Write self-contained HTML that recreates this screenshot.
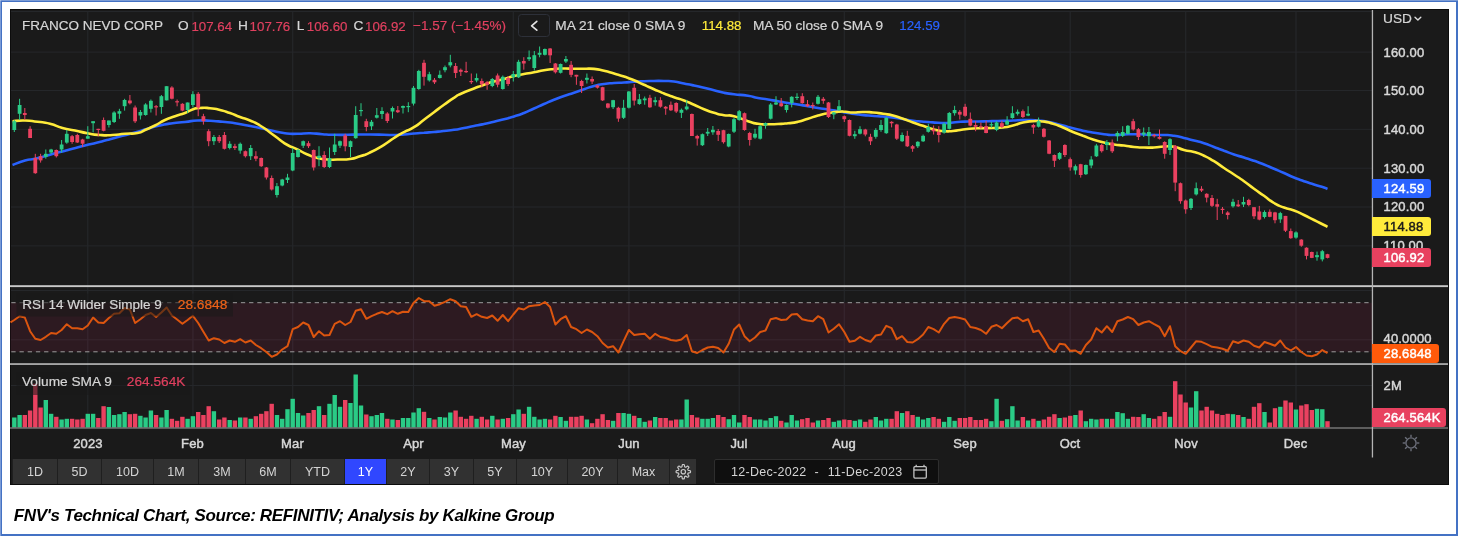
<!DOCTYPE html>
<html><head><meta charset="utf-8"><title>FNV Technical Chart</title>
<style>
html,body{margin:0;padding:0;}
body{width:1458px;height:536px;background:#fff;position:relative;overflow:hidden;font-family:"Liberation Sans",Arial,sans-serif;}
.frame{position:absolute;left:0;top:0;width:1454px;height:532px;border:2px solid #4472c4;}
.frame:before{content:"";position:absolute;left:-2px;top:-2px;width:1458px;height:1px;background:rgba(255,255,255,.3);}
.frame:after{content:"";position:absolute;left:-2px;top:-2px;width:1px;height:536px;background:rgba(255,255,255,.3);}
.chart{position:absolute;left:9.5px;top:9.4px;width:1439px;height:476.1px;background:#1a1a1a;box-shadow:inset 0 0 0 1px #0c0c0c;}
svg{position:absolute;left:0;top:0;}
.t{position:absolute;white-space:nowrap;line-height:1;}
.lg{font-size:13.7px;color:#d6d6d6;top:19.3px;-webkit-text-stroke:0.2px currentColor;}
.red{color:#e0405f;}
.dg{font-size:13.3px;top:19.5px;}
.ax{font-size:13px;color:#d8d8d8;left:1383.6px;font-weight:normal;-webkit-text-stroke:0.45px #d8d8d8;letter-spacing:0.15px;}
.tag{position:absolute;left:1372px;height:19px;border-radius:0 3px 3px 0;color:#fff;font-size:13px;font-weight:normal;-webkit-text-stroke:0.45px currentColor;letter-spacing:0.15px;line-height:19px;box-sizing:border-box;padding-left:11.6px;}
.mon{font-size:13px;color:#d8d8d8;font-weight:normal;-webkit-text-stroke:0.45px #d8d8d8;letter-spacing:0.15px;top:437px;transform:translateX(-50%);}
.btn{position:absolute;top:459px;height:25px;background:#313131;color:#d4d4d4;font-size:12.5px;line-height:26.6px;text-align:center;box-sizing:border-box;border-left:1px solid #1f1f1f;}
.btn.sel{background:#3047ff;color:#fff;}
.cap{left:13.8px;top:506.5px;font-size:17px;letter-spacing:-0.34px;font-weight:bold;font-style:italic;color:#000;}
</style></head><body>
<div class="frame"></div>
<div class="chart"></div>
<svg width="1458" height="536" viewBox="0 0 1458 536">
<line x1="87.8" y1="11" x2="87.8" y2="428" stroke="#25272a" stroke-width="1.2"/>
<line x1="192.9" y1="11" x2="192.9" y2="428" stroke="#25272a" stroke-width="1.2"/>
<line x1="292.7" y1="11" x2="292.7" y2="428" stroke="#25272a" stroke-width="1.2"/>
<line x1="413.5" y1="11" x2="413.5" y2="428" stroke="#25272a" stroke-width="1.2"/>
<line x1="513.3" y1="11" x2="513.3" y2="428" stroke="#25272a" stroke-width="1.2"/>
<line x1="628.9" y1="11" x2="628.9" y2="428" stroke="#25272a" stroke-width="1.2"/>
<line x1="739.2" y1="11" x2="739.2" y2="428" stroke="#25272a" stroke-width="1.2"/>
<line x1="844.3" y1="11" x2="844.3" y2="428" stroke="#25272a" stroke-width="1.2"/>
<line x1="965.1" y1="11" x2="965.1" y2="428" stroke="#25272a" stroke-width="1.2"/>
<line x1="1070.2" y1="11" x2="1070.2" y2="428" stroke="#25272a" stroke-width="1.2"/>
<line x1="1185.7" y1="11" x2="1185.7" y2="428" stroke="#25272a" stroke-width="1.2"/>
<line x1="1296.0" y1="11" x2="1296.0" y2="428" stroke="#25272a" stroke-width="1.2"/>
<line x1="11" y1="52.1" x2="1372" y2="52.1" stroke="#25272a" stroke-width="1"/>
<line x1="11" y1="90.5" x2="1372" y2="90.5" stroke="#25272a" stroke-width="1"/>
<line x1="11" y1="129.3" x2="1372" y2="129.3" stroke="#25272a" stroke-width="1"/>
<line x1="11" y1="168.2" x2="1372" y2="168.2" stroke="#25272a" stroke-width="1"/>
<line x1="11" y1="207.0" x2="1372" y2="207.0" stroke="#25272a" stroke-width="1"/>
<line x1="11" y1="245.9" x2="1372" y2="245.9" stroke="#25272a" stroke-width="1"/>
<line x1="11" y1="11.5" x2="1372" y2="11.5" stroke="#25272a" stroke-width="1"/>
<line x1="11" y1="290.5" x2="1372" y2="290.5" stroke="#25272a" stroke-width="1"/>
<line x1="11" y1="339.8" x2="1372" y2="339.8" stroke="#25272a" stroke-width="1"/>
<rect x="10.5" y="302.7" width="1361.5" height="49.1" fill="rgb(255,37,118)" fill-opacity="0.087"/>
<line x1="11.3" y1="302.7" x2="1372" y2="302.7" stroke="#9c9c9c" stroke-width="1" stroke-dasharray="4.3 3.9"/>
<line x1="11.3" y1="351.8" x2="1372" y2="351.8" stroke="#9c9c9c" stroke-width="1" stroke-dasharray="4.3 3.9"/>
<line x1="11" y1="385.5" x2="1372" y2="385.5" stroke="#25272a" stroke-width="1"/>
<rect x="12.1" y="417.5" width="4.4" height="10.0" fill="#2acb86"/>
<rect x="17.4" y="415.0" width="4.4" height="12.5" fill="#2acb86"/>
<rect x="22.6" y="415.0" width="4.4" height="12.5" fill="#ea4160"/>
<rect x="27.9" y="410.5" width="4.4" height="17.0" fill="#ea4160"/>
<rect x="33.1" y="383.8" width="4.4" height="43.8" fill="#ea4160"/>
<rect x="38.4" y="407.5" width="4.4" height="20.0" fill="#ea4160"/>
<rect x="43.6" y="400.0" width="4.4" height="27.5" fill="#2acb86"/>
<rect x="48.9" y="413.8" width="4.4" height="13.8" fill="#2acb86"/>
<rect x="54.1" y="416.8" width="4.4" height="10.8" fill="#ea4160"/>
<rect x="59.4" y="419.5" width="4.4" height="8.0" fill="#2acb86"/>
<rect x="64.6" y="418.8" width="4.4" height="8.8" fill="#2acb86"/>
<rect x="69.9" y="418.8" width="4.4" height="8.8" fill="#ea4160"/>
<rect x="75.1" y="419.5" width="4.4" height="8.0" fill="#ea4160"/>
<rect x="80.4" y="418.8" width="4.4" height="8.8" fill="#ea4160"/>
<rect x="85.6" y="413.8" width="4.4" height="13.8" fill="#2acb86"/>
<rect x="90.9" y="413.8" width="4.4" height="13.8" fill="#2acb86"/>
<rect x="96.1" y="418.0" width="4.4" height="9.5" fill="#ea4160"/>
<rect x="101.4" y="406.2" width="4.4" height="21.2" fill="#ea4160"/>
<rect x="106.7" y="407.0" width="4.4" height="20.5" fill="#2acb86"/>
<rect x="111.9" y="415.0" width="4.4" height="12.5" fill="#2acb86"/>
<rect x="117.2" y="414.2" width="4.4" height="13.2" fill="#2acb86"/>
<rect x="122.4" y="412.0" width="4.4" height="15.5" fill="#2acb86"/>
<rect x="127.7" y="414.2" width="4.4" height="13.2" fill="#ea4160"/>
<rect x="132.9" y="413.8" width="4.4" height="13.8" fill="#ea4160"/>
<rect x="138.2" y="415.8" width="4.4" height="11.8" fill="#2acb86"/>
<rect x="143.4" y="417.5" width="4.4" height="10.0" fill="#2acb86"/>
<rect x="148.7" y="410.5" width="4.4" height="17.0" fill="#2acb86"/>
<rect x="153.9" y="415.0" width="4.4" height="12.5" fill="#ea4160"/>
<rect x="159.2" y="417.5" width="4.4" height="10.0" fill="#2acb86"/>
<rect x="164.4" y="410.0" width="4.4" height="17.5" fill="#2acb86"/>
<rect x="169.7" y="418.8" width="4.4" height="8.8" fill="#ea4160"/>
<rect x="174.9" y="420.8" width="4.4" height="6.8" fill="#ea4160"/>
<rect x="180.2" y="416.8" width="4.4" height="10.8" fill="#ea4160"/>
<rect x="185.4" y="418.8" width="4.4" height="8.8" fill="#2acb86"/>
<rect x="190.7" y="416.2" width="4.4" height="11.2" fill="#2acb86"/>
<rect x="196.0" y="412.0" width="4.4" height="15.5" fill="#ea4160"/>
<rect x="201.2" y="415.0" width="4.4" height="12.5" fill="#ea4160"/>
<rect x="206.5" y="406.2" width="4.4" height="21.2" fill="#ea4160"/>
<rect x="211.7" y="411.2" width="4.4" height="16.2" fill="#2acb86"/>
<rect x="217.0" y="419.5" width="4.4" height="8.0" fill="#ea4160"/>
<rect x="222.2" y="417.5" width="4.4" height="10.0" fill="#ea4160"/>
<rect x="227.5" y="420.0" width="4.4" height="7.5" fill="#2acb86"/>
<rect x="232.7" y="420.5" width="4.4" height="7.0" fill="#ea4160"/>
<rect x="238.0" y="417.5" width="4.4" height="10.0" fill="#2acb86"/>
<rect x="243.2" y="417.5" width="4.4" height="10.0" fill="#ea4160"/>
<rect x="248.5" y="418.8" width="4.4" height="8.8" fill="#2acb86"/>
<rect x="253.7" y="416.2" width="4.4" height="11.2" fill="#ea4160"/>
<rect x="259.0" y="413.8" width="4.4" height="13.8" fill="#ea4160"/>
<rect x="264.2" y="411.2" width="4.4" height="16.2" fill="#ea4160"/>
<rect x="269.5" y="403.8" width="4.4" height="23.8" fill="#ea4160"/>
<rect x="274.8" y="415.0" width="4.4" height="12.5" fill="#2acb86"/>
<rect x="280.0" y="418.8" width="4.4" height="8.8" fill="#2acb86"/>
<rect x="285.3" y="409.2" width="4.4" height="18.2" fill="#2acb86"/>
<rect x="290.5" y="398.8" width="4.4" height="28.8" fill="#2acb86"/>
<rect x="295.8" y="413.0" width="4.4" height="14.5" fill="#2acb86"/>
<rect x="301.0" y="415.5" width="4.4" height="12.0" fill="#2acb86"/>
<rect x="306.3" y="413.0" width="4.4" height="14.5" fill="#ea4160"/>
<rect x="311.5" y="410.0" width="4.4" height="17.5" fill="#ea4160"/>
<rect x="316.8" y="406.2" width="4.4" height="21.2" fill="#2acb86"/>
<rect x="322.0" y="415.0" width="4.4" height="12.5" fill="#ea4160"/>
<rect x="327.3" y="403.8" width="4.4" height="23.8" fill="#2acb86"/>
<rect x="332.5" y="395.0" width="4.4" height="32.5" fill="#2acb86"/>
<rect x="337.8" y="406.8" width="4.4" height="20.8" fill="#2acb86"/>
<rect x="343.0" y="400.0" width="4.4" height="27.5" fill="#ea4160"/>
<rect x="348.3" y="403.0" width="4.4" height="24.5" fill="#2acb86"/>
<rect x="353.5" y="374.5" width="4.4" height="53.0" fill="#2acb86"/>
<rect x="358.8" y="405.5" width="4.4" height="22.0" fill="#2acb86"/>
<rect x="364.1" y="414.5" width="4.4" height="13.0" fill="#ea4160"/>
<rect x="369.3" y="416.2" width="4.4" height="11.2" fill="#2acb86"/>
<rect x="374.6" y="415.0" width="4.4" height="12.5" fill="#2acb86"/>
<rect x="379.8" y="413.0" width="4.4" height="14.5" fill="#2acb86"/>
<rect x="385.1" y="418.8" width="4.4" height="8.8" fill="#ea4160"/>
<rect x="390.3" y="419.5" width="4.4" height="8.0" fill="#2acb86"/>
<rect x="395.6" y="420.0" width="4.4" height="7.5" fill="#ea4160"/>
<rect x="400.8" y="418.0" width="4.4" height="9.5" fill="#2acb86"/>
<rect x="406.1" y="418.0" width="4.4" height="9.5" fill="#2acb86"/>
<rect x="411.3" y="412.5" width="4.4" height="15.0" fill="#2acb86"/>
<rect x="416.6" y="408.2" width="4.4" height="19.2" fill="#2acb86"/>
<rect x="421.8" y="411.8" width="4.4" height="15.8" fill="#ea4160"/>
<rect x="427.1" y="418.0" width="4.4" height="9.5" fill="#2acb86"/>
<rect x="432.3" y="419.5" width="4.4" height="8.0" fill="#ea4160"/>
<rect x="437.6" y="417.0" width="4.4" height="10.5" fill="#2acb86"/>
<rect x="442.8" y="417.5" width="4.4" height="10.0" fill="#2acb86"/>
<rect x="448.1" y="412.5" width="4.4" height="15.0" fill="#2acb86"/>
<rect x="453.4" y="410.5" width="4.4" height="17.0" fill="#ea4160"/>
<rect x="458.6" y="416.8" width="4.4" height="10.8" fill="#ea4160"/>
<rect x="463.9" y="418.8" width="4.4" height="8.8" fill="#ea4160"/>
<rect x="469.1" y="415.8" width="4.4" height="11.8" fill="#ea4160"/>
<rect x="474.4" y="418.8" width="4.4" height="8.8" fill="#2acb86"/>
<rect x="479.6" y="416.8" width="4.4" height="10.8" fill="#ea4160"/>
<rect x="484.9" y="419.5" width="4.4" height="8.0" fill="#ea4160"/>
<rect x="490.1" y="415.8" width="4.4" height="11.8" fill="#2acb86"/>
<rect x="495.4" y="419.5" width="4.4" height="8.0" fill="#ea4160"/>
<rect x="500.6" y="418.8" width="4.4" height="8.8" fill="#2acb86"/>
<rect x="505.9" y="418.0" width="4.4" height="9.5" fill="#ea4160"/>
<rect x="511.1" y="414.2" width="4.4" height="13.2" fill="#2acb86"/>
<rect x="516.4" y="409.5" width="4.4" height="18.0" fill="#2acb86"/>
<rect x="521.6" y="413.8" width="4.4" height="13.8" fill="#ea4160"/>
<rect x="526.9" y="406.8" width="4.4" height="20.8" fill="#2acb86"/>
<rect x="532.1" y="416.8" width="4.4" height="10.8" fill="#2acb86"/>
<rect x="537.4" y="419.5" width="4.4" height="8.0" fill="#2acb86"/>
<rect x="542.7" y="418.8" width="4.4" height="8.8" fill="#2acb86"/>
<rect x="547.9" y="419.5" width="4.4" height="8.0" fill="#ea4160"/>
<rect x="553.2" y="415.8" width="4.4" height="11.8" fill="#ea4160"/>
<rect x="558.4" y="417.0" width="4.4" height="10.5" fill="#2acb86"/>
<rect x="563.7" y="420.8" width="4.4" height="6.8" fill="#2acb86"/>
<rect x="568.9" y="416.8" width="4.4" height="10.8" fill="#ea4160"/>
<rect x="574.2" y="416.8" width="4.4" height="10.8" fill="#ea4160"/>
<rect x="579.4" y="415.8" width="4.4" height="11.8" fill="#ea4160"/>
<rect x="584.7" y="419.5" width="4.4" height="8.0" fill="#2acb86"/>
<rect x="589.9" y="423.2" width="4.4" height="4.2" fill="#ea4160"/>
<rect x="595.2" y="418.8" width="4.4" height="8.8" fill="#ea4160"/>
<rect x="600.4" y="414.2" width="4.4" height="13.2" fill="#ea4160"/>
<rect x="605.7" y="420.0" width="4.4" height="7.5" fill="#ea4160"/>
<rect x="610.9" y="420.8" width="4.4" height="6.8" fill="#2acb86"/>
<rect x="616.2" y="413.0" width="4.4" height="14.5" fill="#ea4160"/>
<rect x="621.4" y="413.0" width="4.4" height="14.5" fill="#2acb86"/>
<rect x="626.7" y="413.8" width="4.4" height="13.8" fill="#2acb86"/>
<rect x="632.0" y="415.8" width="4.4" height="11.8" fill="#ea4160"/>
<rect x="637.2" y="418.0" width="4.4" height="9.5" fill="#2acb86"/>
<rect x="642.5" y="421.8" width="4.4" height="5.8" fill="#2acb86"/>
<rect x="647.7" y="420.5" width="4.4" height="7.0" fill="#ea4160"/>
<rect x="653.0" y="417.0" width="4.4" height="10.5" fill="#2acb86"/>
<rect x="658.2" y="418.0" width="4.4" height="9.5" fill="#ea4160"/>
<rect x="663.5" y="418.0" width="4.4" height="9.5" fill="#ea4160"/>
<rect x="668.7" y="420.5" width="4.4" height="7.0" fill="#ea4160"/>
<rect x="674.0" y="419.5" width="4.4" height="8.0" fill="#ea4160"/>
<rect x="679.2" y="419.5" width="4.4" height="8.0" fill="#2acb86"/>
<rect x="684.5" y="399.5" width="4.4" height="28.0" fill="#2acb86"/>
<rect x="689.7" y="415.0" width="4.4" height="12.5" fill="#ea4160"/>
<rect x="695.0" y="417.5" width="4.4" height="10.0" fill="#ea4160"/>
<rect x="700.2" y="418.8" width="4.4" height="8.8" fill="#2acb86"/>
<rect x="705.5" y="418.8" width="4.4" height="8.8" fill="#2acb86"/>
<rect x="710.7" y="418.0" width="4.4" height="9.5" fill="#2acb86"/>
<rect x="716.0" y="415.0" width="4.4" height="12.5" fill="#ea4160"/>
<rect x="721.3" y="417.0" width="4.4" height="10.5" fill="#ea4160"/>
<rect x="726.5" y="419.2" width="4.4" height="8.2" fill="#2acb86"/>
<rect x="731.8" y="415.0" width="4.4" height="12.5" fill="#2acb86"/>
<rect x="737.0" y="422.5" width="4.4" height="5.0" fill="#2acb86"/>
<rect x="742.3" y="415.0" width="4.4" height="12.5" fill="#ea4160"/>
<rect x="747.5" y="417.0" width="4.4" height="10.5" fill="#ea4160"/>
<rect x="752.8" y="419.5" width="4.4" height="8.0" fill="#2acb86"/>
<rect x="758.0" y="419.5" width="4.4" height="8.0" fill="#2acb86"/>
<rect x="763.3" y="420.5" width="4.4" height="7.0" fill="#2acb86"/>
<rect x="768.5" y="418.0" width="4.4" height="9.5" fill="#2acb86"/>
<rect x="773.8" y="416.2" width="4.4" height="11.2" fill="#2acb86"/>
<rect x="779.0" y="420.8" width="4.4" height="6.8" fill="#ea4160"/>
<rect x="784.3" y="422.5" width="4.4" height="5.0" fill="#2acb86"/>
<rect x="789.5" y="415.0" width="4.4" height="12.5" fill="#2acb86"/>
<rect x="794.8" y="420.5" width="4.4" height="7.0" fill="#2acb86"/>
<rect x="800.0" y="419.2" width="4.4" height="8.2" fill="#ea4160"/>
<rect x="805.3" y="418.0" width="4.4" height="9.5" fill="#ea4160"/>
<rect x="810.6" y="422.5" width="4.4" height="5.0" fill="#ea4160"/>
<rect x="815.8" y="420.5" width="4.4" height="7.0" fill="#2acb86"/>
<rect x="821.1" y="420.0" width="4.4" height="7.5" fill="#ea4160"/>
<rect x="826.3" y="418.0" width="4.4" height="9.5" fill="#ea4160"/>
<rect x="831.6" y="421.8" width="4.4" height="5.8" fill="#2acb86"/>
<rect x="836.8" y="420.5" width="4.4" height="7.0" fill="#2acb86"/>
<rect x="842.1" y="419.5" width="4.4" height="8.0" fill="#ea4160"/>
<rect x="847.3" y="420.0" width="4.4" height="7.5" fill="#ea4160"/>
<rect x="852.6" y="420.8" width="4.4" height="6.8" fill="#2acb86"/>
<rect x="857.8" y="419.5" width="4.4" height="8.0" fill="#2acb86"/>
<rect x="863.1" y="421.8" width="4.4" height="5.8" fill="#ea4160"/>
<rect x="868.3" y="419.5" width="4.4" height="8.0" fill="#ea4160"/>
<rect x="873.6" y="417.0" width="4.4" height="10.5" fill="#2acb86"/>
<rect x="878.8" y="420.5" width="4.4" height="7.0" fill="#2acb86"/>
<rect x="884.1" y="418.8" width="4.4" height="8.8" fill="#2acb86"/>
<rect x="889.4" y="418.8" width="4.4" height="8.8" fill="#ea4160"/>
<rect x="894.6" y="411.2" width="4.4" height="16.2" fill="#ea4160"/>
<rect x="899.9" y="413.0" width="4.4" height="14.5" fill="#2acb86"/>
<rect x="905.1" y="411.2" width="4.4" height="16.2" fill="#ea4160"/>
<rect x="910.4" y="415.0" width="4.4" height="12.5" fill="#ea4160"/>
<rect x="915.6" y="416.8" width="4.4" height="10.8" fill="#2acb86"/>
<rect x="920.9" y="419.5" width="4.4" height="8.0" fill="#2acb86"/>
<rect x="926.1" y="418.0" width="4.4" height="9.5" fill="#2acb86"/>
<rect x="931.4" y="417.0" width="4.4" height="10.5" fill="#ea4160"/>
<rect x="936.6" y="418.8" width="4.4" height="8.8" fill="#ea4160"/>
<rect x="941.9" y="421.8" width="4.4" height="5.8" fill="#2acb86"/>
<rect x="947.1" y="417.0" width="4.4" height="10.5" fill="#2acb86"/>
<rect x="952.4" y="420.8" width="4.4" height="6.8" fill="#2acb86"/>
<rect x="957.6" y="418.0" width="4.4" height="9.5" fill="#ea4160"/>
<rect x="962.9" y="418.0" width="4.4" height="9.5" fill="#ea4160"/>
<rect x="968.1" y="417.0" width="4.4" height="10.5" fill="#ea4160"/>
<rect x="973.4" y="420.0" width="4.4" height="7.5" fill="#ea4160"/>
<rect x="978.7" y="420.0" width="4.4" height="7.5" fill="#ea4160"/>
<rect x="983.9" y="418.8" width="4.4" height="8.8" fill="#ea4160"/>
<rect x="989.2" y="421.2" width="4.4" height="6.2" fill="#2acb86"/>
<rect x="994.4" y="398.8" width="4.4" height="28.8" fill="#2acb86"/>
<rect x="999.7" y="420.8" width="4.4" height="6.8" fill="#ea4160"/>
<rect x="1004.9" y="419.2" width="4.4" height="8.2" fill="#2acb86"/>
<rect x="1010.2" y="406.2" width="4.4" height="21.2" fill="#2acb86"/>
<rect x="1015.4" y="420.5" width="4.4" height="7.0" fill="#2acb86"/>
<rect x="1020.7" y="417.0" width="4.4" height="10.5" fill="#ea4160"/>
<rect x="1025.9" y="420.5" width="4.4" height="7.0" fill="#2acb86"/>
<rect x="1031.2" y="418.8" width="4.4" height="8.8" fill="#ea4160"/>
<rect x="1036.4" y="420.8" width="4.4" height="6.8" fill="#2acb86"/>
<rect x="1041.7" y="419.5" width="4.4" height="8.0" fill="#ea4160"/>
<rect x="1046.9" y="416.8" width="4.4" height="10.8" fill="#ea4160"/>
<rect x="1052.2" y="414.2" width="4.4" height="13.2" fill="#ea4160"/>
<rect x="1057.4" y="418.0" width="4.4" height="9.5" fill="#2acb86"/>
<rect x="1062.7" y="417.5" width="4.4" height="10.0" fill="#ea4160"/>
<rect x="1068.0" y="415.8" width="4.4" height="11.8" fill="#ea4160"/>
<rect x="1073.2" y="415.0" width="4.4" height="12.5" fill="#2acb86"/>
<rect x="1078.5" y="410.5" width="4.4" height="17.0" fill="#ea4160"/>
<rect x="1083.7" y="421.2" width="4.4" height="6.2" fill="#2acb86"/>
<rect x="1089.0" y="418.8" width="4.4" height="8.8" fill="#2acb86"/>
<rect x="1094.2" y="419.5" width="4.4" height="8.0" fill="#2acb86"/>
<rect x="1099.5" y="418.8" width="4.4" height="8.8" fill="#ea4160"/>
<rect x="1104.7" y="418.8" width="4.4" height="8.8" fill="#2acb86"/>
<rect x="1110.0" y="418.8" width="4.4" height="8.8" fill="#ea4160"/>
<rect x="1115.2" y="412.0" width="4.4" height="15.5" fill="#2acb86"/>
<rect x="1120.5" y="413.2" width="4.4" height="14.2" fill="#2acb86"/>
<rect x="1125.7" y="418.8" width="4.4" height="8.8" fill="#2acb86"/>
<rect x="1131.0" y="416.8" width="4.4" height="10.8" fill="#ea4160"/>
<rect x="1136.2" y="417.0" width="4.4" height="10.5" fill="#ea4160"/>
<rect x="1141.5" y="414.2" width="4.4" height="13.2" fill="#2acb86"/>
<rect x="1146.7" y="418.0" width="4.4" height="9.5" fill="#2acb86"/>
<rect x="1152.0" y="418.8" width="4.4" height="8.8" fill="#ea4160"/>
<rect x="1157.3" y="416.2" width="4.4" height="11.2" fill="#ea4160"/>
<rect x="1162.5" y="412.0" width="4.4" height="15.5" fill="#ea4160"/>
<rect x="1167.8" y="416.8" width="4.4" height="10.8" fill="#2acb86"/>
<rect x="1173.0" y="381.2" width="4.4" height="46.2" fill="#ea4160"/>
<rect x="1178.3" y="394.5" width="4.4" height="33.0" fill="#ea4160"/>
<rect x="1183.5" y="402.5" width="4.4" height="25.0" fill="#ea4160"/>
<rect x="1188.8" y="407.5" width="4.4" height="20.0" fill="#2acb86"/>
<rect x="1194.0" y="391.2" width="4.4" height="36.2" fill="#2acb86"/>
<rect x="1199.3" y="410.5" width="4.4" height="17.0" fill="#ea4160"/>
<rect x="1204.5" y="406.8" width="4.4" height="20.8" fill="#ea4160"/>
<rect x="1209.8" y="410.5" width="4.4" height="17.0" fill="#ea4160"/>
<rect x="1215.0" y="413.8" width="4.4" height="13.8" fill="#ea4160"/>
<rect x="1220.3" y="415.0" width="4.4" height="12.5" fill="#ea4160"/>
<rect x="1225.5" y="413.8" width="4.4" height="13.8" fill="#ea4160"/>
<rect x="1230.8" y="414.2" width="4.4" height="13.2" fill="#2acb86"/>
<rect x="1236.0" y="415.0" width="4.4" height="12.5" fill="#ea4160"/>
<rect x="1241.3" y="417.0" width="4.4" height="10.5" fill="#2acb86"/>
<rect x="1246.6" y="418.8" width="4.4" height="8.8" fill="#ea4160"/>
<rect x="1251.8" y="406.8" width="4.4" height="20.8" fill="#ea4160"/>
<rect x="1257.1" y="403.2" width="4.4" height="24.2" fill="#ea4160"/>
<rect x="1262.3" y="412.0" width="4.4" height="15.5" fill="#2acb86"/>
<rect x="1267.6" y="422.5" width="4.4" height="5.0" fill="#ea4160"/>
<rect x="1272.8" y="408.2" width="4.4" height="19.2" fill="#ea4160"/>
<rect x="1278.1" y="406.8" width="4.4" height="20.8" fill="#2acb86"/>
<rect x="1283.3" y="400.5" width="4.4" height="27.0" fill="#ea4160"/>
<rect x="1288.6" y="402.5" width="4.4" height="25.0" fill="#ea4160"/>
<rect x="1293.8" y="409.5" width="4.4" height="18.0" fill="#2acb86"/>
<rect x="1299.1" y="405.5" width="4.4" height="22.0" fill="#ea4160"/>
<rect x="1304.3" y="404.2" width="4.4" height="23.2" fill="#ea4160"/>
<rect x="1309.6" y="410.0" width="4.4" height="17.5" fill="#ea4160"/>
<rect x="1314.8" y="408.8" width="4.4" height="18.8" fill="#2acb86"/>
<rect x="1320.1" y="409.2" width="4.4" height="18.2" fill="#2acb86"/>
<rect x="1325.3" y="421.2" width="4.4" height="6.2" fill="#ea4160"/>
<path d="M12.5 165.0 C16.7 163.5 17.5 162.6 25.0 160.5 C32.5 158.4 27.5 160.4 35.0 158.8 C42.5 157.1 39.2 157.8 47.5 155.5 C55.8 153.2 51.7 154.2 60.0 152.0 C68.3 149.8 64.2 150.9 72.5 148.8 C80.8 146.6 76.7 147.6 85.0 145.5 C93.3 143.4 89.2 144.6 97.5 142.5 C105.8 140.4 101.7 141.5 110.0 139.2 C118.3 137.0 114.2 138.0 122.5 135.8 C130.8 133.5 126.7 134.8 135.0 132.5 C143.3 130.2 139.2 131.1 147.5 128.8 C155.8 126.4 151.7 127.3 160.0 125.5 C168.3 123.7 164.2 124.4 172.5 123.2 C180.8 122.1 176.7 122.9 185.0 122.0 C193.3 121.1 189.2 120.9 197.5 120.5 C205.8 120.1 201.7 120.3 210.0 120.8 C218.3 121.2 214.2 120.9 222.5 121.8 C230.8 122.6 226.7 122.0 235.0 123.2 C243.3 124.5 239.2 123.9 247.5 125.5 C255.8 127.1 251.7 126.2 260.0 128.0 C268.3 129.8 264.2 129.0 272.5 130.8 C280.8 132.5 276.7 132.2 285.0 133.2 C293.3 134.2 289.2 133.8 297.5 133.8 C305.8 133.8 301.7 133.1 310.0 133.2 C318.3 133.4 314.2 133.8 322.5 134.2 C330.8 134.8 326.7 134.6 335.0 134.8 C343.3 134.9 339.2 134.8 347.5 134.8 C355.8 134.7 352.5 134.6 360.0 134.5 C367.5 134.4 362.0 134.4 370.0 134.5 C378.0 134.6 376.0 134.6 384.0 134.8 C392.0 134.9 387.3 135.1 394.0 135.0 C400.7 134.9 397.3 135.0 404.0 134.5 C410.7 134.0 407.3 134.1 414.0 133.5 C420.7 132.9 417.3 133.2 424.0 132.8 C430.7 132.2 427.3 132.6 434.0 132.0 C440.7 131.4 437.3 131.8 444.0 131.0 C450.7 130.2 447.3 130.8 454.0 129.8 C460.7 128.8 457.3 129.2 464.0 128.0 C470.7 126.8 467.3 127.3 474.0 126.0 C480.7 124.7 477.3 125.4 484.0 124.0 C490.7 122.6 487.3 123.3 494.0 121.8 C500.7 120.2 497.3 121.0 504.0 119.2 C510.7 117.5 507.3 118.6 514.0 116.5 C520.7 114.4 517.3 115.7 524.0 113.0 C530.7 110.3 527.3 111.5 534.0 108.5 C540.7 105.5 537.3 106.9 544.0 104.0 C550.7 101.1 547.3 102.4 554.0 99.8 C560.7 97.1 557.3 98.3 564.0 96.0 C570.7 93.7 567.3 95.0 574.0 92.8 C580.7 90.5 577.3 91.5 584.0 89.2 C590.7 87.0 587.3 87.8 594.0 86.0 C600.7 84.2 597.3 85.0 604.0 84.0 C610.7 83.0 607.3 83.5 614.0 83.0 C620.7 82.5 617.3 82.9 624.0 82.5 C630.7 82.1 627.3 82.2 634.0 81.8 C640.7 81.3 637.3 81.5 644.0 81.2 C650.7 81.0 647.3 81.1 654.0 81.0 C660.7 80.9 657.3 80.8 664.0 81.0 C670.7 81.2 667.3 80.7 674.0 81.5 C680.7 82.3 677.3 82.2 684.0 83.5 C690.7 84.8 687.3 84.1 694.0 85.5 C700.7 86.9 697.3 86.2 704.0 87.8 C710.7 89.3 707.3 88.6 714.0 90.2 C720.7 91.9 717.3 91.4 724.0 92.8 C730.7 94.1 726.0 93.2 734.0 94.2 C742.0 95.2 740.0 94.5 748.0 95.8 C756.0 97.0 751.3 96.8 758.0 98.0 C764.7 99.2 761.3 98.4 768.0 99.5 C774.7 100.6 771.3 100.1 778.0 101.2 C784.7 102.4 781.3 101.9 788.0 103.0 C794.7 104.1 791.3 103.4 798.0 104.5 C804.7 105.6 801.3 105.1 808.0 106.2 C814.7 107.4 811.3 106.9 818.0 108.0 C824.7 109.1 821.3 108.4 828.0 109.5 C834.7 110.6 831.3 110.1 838.0 111.2 C844.7 112.4 841.3 111.9 848.0 113.0 C854.7 114.1 851.3 113.7 858.0 114.5 C864.7 115.3 861.3 114.9 868.0 115.5 C874.7 116.1 871.3 115.8 878.0 116.2 C884.7 116.8 881.3 116.3 888.0 117.0 C894.7 117.7 891.3 117.2 898.0 118.2 C904.7 119.2 901.3 119.0 908.0 120.0 C914.7 121.0 911.3 120.6 918.0 121.2 C924.7 121.9 921.3 121.5 928.0 122.0 C934.7 122.5 931.3 122.4 938.0 122.8 C944.7 123.1 941.3 123.2 948.0 123.0 C954.7 122.8 951.3 122.5 958.0 122.0 C964.7 121.5 961.3 121.7 968.0 121.5 C974.7 121.3 971.3 121.6 978.0 121.5 C984.7 121.4 981.3 121.4 988.0 121.2 C994.7 121.1 991.3 121.2 998.0 121.0 C1004.7 120.8 1001.3 121.0 1008.0 120.8 C1014.7 120.5 1011.3 120.5 1018.0 120.2 C1024.7 120.0 1021.3 119.9 1028.0 120.0 C1034.7 120.1 1031.3 119.9 1038.0 120.5 C1044.7 121.1 1041.3 120.5 1048.0 121.8 C1054.7 123.0 1051.3 122.5 1058.0 124.2 C1064.7 126.0 1061.3 125.2 1068.0 127.0 C1074.7 128.8 1071.3 127.9 1078.0 129.5 C1084.7 131.1 1079.3 130.2 1088.0 131.8 C1096.7 133.3 1095.3 133.2 1104.0 134.2 C1112.7 135.3 1107.3 134.9 1114.0 135.0 C1120.7 135.1 1117.3 134.8 1124.0 134.5 C1130.7 134.2 1127.3 134.2 1134.0 134.2 C1140.7 134.2 1137.3 134.2 1144.0 134.5 C1150.7 134.8 1147.3 134.8 1154.0 135.0 C1160.7 135.2 1157.3 134.8 1164.0 135.0 C1170.7 135.2 1167.3 134.8 1174.0 135.8 C1180.7 136.8 1177.3 136.4 1184.0 138.0 C1190.7 139.6 1187.3 138.8 1194.0 140.5 C1200.7 142.2 1197.3 141.1 1204.0 143.2 C1210.7 145.4 1207.3 144.5 1214.0 147.0 C1220.7 149.5 1217.3 148.2 1224.0 150.8 C1230.7 153.2 1227.3 152.2 1234.0 154.5 C1240.7 156.8 1237.3 155.4 1244.0 157.5 C1250.7 159.6 1247.3 158.4 1254.0 160.8 C1260.7 163.1 1257.3 161.8 1264.0 164.5 C1270.7 167.2 1267.3 165.9 1274.0 168.8 C1280.7 171.6 1277.3 170.1 1284.0 173.0 C1290.7 175.9 1287.3 174.8 1294.0 177.5 C1300.7 180.2 1297.3 178.9 1304.0 181.2 C1310.7 183.6 1307.3 182.4 1314.0 184.5 C1320.7 186.6 1319.5 186.0 1324.0 187.5 C1328.5 189.0 1326.3 188.5 1327.5 189.0" fill="none" stroke="#2962ff" stroke-width="2.6" stroke-linejoin="round"/>
<path d="M12.5 121.2 C16.7 121.0 16.7 120.3 25.0 120.5 C33.3 120.7 29.2 120.7 37.5 121.8 C45.8 122.8 41.7 121.7 50.0 123.8 C58.3 125.8 54.2 125.8 62.5 128.0 C70.8 130.2 66.7 128.8 75.0 130.5 C83.3 132.2 79.2 131.8 87.5 133.2 C95.8 134.8 91.7 134.4 100.0 135.0 C108.3 135.6 104.2 135.4 112.5 135.0 C120.8 134.6 116.7 134.4 125.0 133.8 C133.3 133.1 130.8 134.2 137.5 133.0 C144.2 131.8 139.2 132.5 145.0 130.0 C150.8 127.5 148.3 128.8 155.0 125.5 C161.7 122.2 158.3 123.1 165.0 120.0 C171.7 116.9 168.3 118.6 175.0 116.2 C181.7 113.9 179.2 115.2 185.0 113.0 C190.8 110.8 187.5 111.2 192.5 109.5 C197.5 107.8 194.2 108.4 200.0 108.0 C205.8 107.6 203.3 107.6 210.0 108.2 C216.7 108.9 213.3 108.4 220.0 110.0 C226.7 111.6 223.3 110.7 230.0 113.0 C236.7 115.3 233.3 114.5 240.0 117.0 C246.7 119.5 243.3 117.7 250.0 120.5 C256.7 123.3 253.3 121.5 260.0 125.5 C266.7 129.5 263.3 127.7 270.0 132.5 C276.7 137.3 274.2 135.8 280.0 140.0 C285.8 144.2 281.7 141.8 287.5 145.0 C293.3 148.2 290.8 146.3 297.5 149.5 C304.2 152.7 300.8 151.7 307.5 154.5 C314.2 157.3 310.8 156.3 317.5 158.0 C324.2 159.7 320.8 159.0 327.5 159.5 C334.2 160.0 330.0 159.7 337.5 159.5 C345.0 159.3 342.5 160.1 350.0 159.0 C357.5 157.9 353.3 158.4 360.0 156.2 C366.7 154.1 362.0 156.3 370.0 152.5 C378.0 148.7 376.0 149.6 384.0 144.8 C392.0 139.9 387.3 142.2 394.0 138.0 C400.7 133.8 397.3 135.8 404.0 132.2 C410.7 128.7 407.3 131.4 414.0 127.2 C420.7 123.1 417.3 124.8 424.0 119.8 C430.7 114.8 427.3 117.2 434.0 112.2 C440.7 107.2 437.3 109.6 444.0 104.8 C450.7 99.9 448.2 101.5 454.0 97.8 C459.8 94.0 454.8 96.6 461.5 93.5 C468.2 90.4 466.5 91.4 474.0 88.5 C481.5 85.6 477.3 87.1 484.0 84.8 C490.7 82.4 487.3 83.4 494.0 81.5 C500.7 79.6 497.3 80.8 504.0 79.0 C510.7 77.2 507.3 77.7 514.0 76.0 C520.7 74.3 517.3 75.2 524.0 74.0 C530.7 72.8 527.3 73.5 534.0 72.2 C540.7 71.0 537.3 71.3 544.0 70.2 C550.7 69.2 547.3 69.6 554.0 69.0 C560.7 68.4 557.3 68.6 564.0 68.5 C570.7 68.4 567.3 68.7 574.0 68.8 C580.7 68.8 577.3 68.7 584.0 68.8 C590.7 68.8 587.3 68.2 594.0 68.9 C600.7 69.5 597.3 69.2 604.0 70.8 C610.7 72.3 607.3 71.6 614.0 73.5 C620.7 75.4 617.3 74.2 624.0 76.5 C630.7 78.8 627.3 77.5 634.0 80.2 C640.7 83.0 637.3 81.8 644.0 84.8 C650.7 87.8 647.3 86.3 654.0 89.2 C660.7 92.2 657.3 90.8 664.0 93.5 C670.7 96.2 667.3 94.9 674.0 97.2 C680.7 99.6 677.3 98.0 684.0 100.5 C690.7 103.0 687.3 101.8 694.0 104.8 C700.7 107.7 697.3 106.6 704.0 109.2 C710.7 111.9 707.3 110.8 714.0 112.8 C720.7 114.8 717.3 114.1 724.0 115.2 C730.7 116.4 726.0 114.2 734.0 116.2 C742.0 118.2 740.0 118.8 748.0 121.2 C756.0 123.8 751.3 122.8 758.0 123.8 C764.7 124.8 761.3 124.2 768.0 124.2 C774.7 124.3 771.3 124.3 778.0 124.0 C784.7 123.7 781.3 124.0 788.0 123.2 C794.7 122.5 791.3 123.2 798.0 121.8 C804.7 120.2 801.3 120.8 808.0 118.8 C814.7 116.7 811.3 117.3 818.0 115.5 C824.7 113.7 821.3 114.5 828.0 113.2 C834.7 112.0 832.2 112.2 838.0 111.8 C843.8 111.2 840.5 111.5 845.5 111.8 C850.5 112.0 847.2 112.4 853.0 112.5 C858.8 112.6 856.3 112.0 863.0 112.0 C869.7 112.0 866.3 111.9 873.0 112.5 C879.7 113.1 876.3 112.8 883.0 113.8 C889.7 114.8 886.3 113.8 893.0 115.5 C899.7 117.2 896.3 116.4 903.0 118.8 C909.7 121.1 906.3 120.2 913.0 122.5 C919.7 124.8 916.3 123.5 923.0 125.8 C929.7 128.0 926.3 127.5 933.0 129.2 C939.7 131.0 936.3 130.4 943.0 131.0 C949.7 131.6 946.3 131.5 953.0 131.0 C959.7 130.5 956.3 130.3 963.0 129.5 C969.7 128.7 966.3 128.9 973.0 128.5 C979.7 128.1 976.3 128.4 983.0 128.2 C989.7 128.1 986.3 128.2 993.0 128.0 C999.7 127.8 996.3 128.3 1003.0 127.5 C1009.7 126.7 1006.3 127.2 1013.0 125.5 C1019.7 123.8 1016.3 123.9 1023.0 122.5 C1029.7 121.1 1026.3 121.6 1033.0 121.2 C1039.7 120.9 1036.3 120.7 1043.0 121.5 C1049.7 122.3 1046.3 121.8 1053.0 123.8 C1059.7 125.8 1056.3 124.8 1063.0 127.5 C1069.7 130.2 1066.3 129.2 1073.0 132.0 C1079.7 134.8 1076.3 133.2 1083.0 135.8 C1089.7 138.2 1086.0 137.2 1093.0 139.5 C1100.0 141.8 1097.0 140.8 1104.0 142.5 C1111.0 144.2 1107.3 143.5 1114.0 144.5 C1120.7 145.5 1117.3 144.7 1124.0 145.5 C1130.7 146.3 1127.3 146.3 1134.0 147.0 C1140.7 147.7 1137.3 147.3 1144.0 147.5 C1150.7 147.7 1147.3 147.8 1154.0 147.5 C1160.7 147.2 1157.3 146.8 1164.0 146.5 C1170.7 146.2 1167.3 145.6 1174.0 146.8 C1180.7 147.9 1177.3 148.2 1184.0 150.0 C1190.7 151.8 1187.3 150.1 1194.0 152.0 C1200.7 153.9 1197.3 152.7 1204.0 155.8 C1210.7 158.8 1207.3 157.2 1214.0 161.2 C1220.7 165.3 1217.3 163.6 1224.0 168.0 C1230.7 172.4 1227.3 170.1 1234.0 174.5 C1240.7 178.9 1237.3 176.5 1244.0 181.2 C1250.7 186.0 1247.3 183.9 1254.0 188.8 C1260.7 193.6 1257.3 191.0 1264.0 195.8 C1270.7 200.5 1267.3 199.1 1274.0 203.0 C1280.7 206.9 1277.3 205.0 1284.0 207.5 C1290.7 210.0 1287.3 208.0 1294.0 210.5 C1300.7 213.0 1297.3 211.8 1304.0 215.0 C1310.7 218.2 1307.3 216.7 1314.0 220.0 C1320.7 223.3 1319.5 222.8 1324.0 225.0 C1328.5 227.2 1326.3 226.2 1327.5 226.8" fill="none" stroke="#ffeb3b" stroke-width="2.6" stroke-linejoin="round"/>
<rect x="13.8" y="120.0" width="1" height="12.0" fill="#2acb86"/>
<rect x="12.4" y="121.2" width="3.8" height="8.8" fill="#2acb86"/>
<rect x="19.1" y="98.8" width="1" height="21.2" fill="#2acb86"/>
<rect x="17.7" y="105.0" width="3.8" height="8.8" fill="#2acb86"/>
<rect x="24.3" y="108.0" width="1" height="12.0" fill="#ea4160"/>
<rect x="22.9" y="113.0" width="3.8" height="2.0" fill="#ea4160"/>
<rect x="29.6" y="126.2" width="1" height="11.8" fill="#ea4160"/>
<rect x="28.2" y="128.8" width="3.8" height="9.2" fill="#ea4160"/>
<rect x="34.8" y="153.8" width="1" height="20.0" fill="#ea4160"/>
<rect x="33.4" y="158.0" width="3.8" height="15.2" fill="#ea4160"/>
<rect x="40.1" y="153.8" width="1" height="8.8" fill="#ea4160"/>
<rect x="38.7" y="156.2" width="3.8" height="4.2" fill="#ea4160"/>
<rect x="45.3" y="149.5" width="1" height="9.2" fill="#2acb86"/>
<rect x="43.9" y="153.8" width="3.8" height="3.0" fill="#2acb86"/>
<rect x="50.6" y="148.8" width="1" height="5.0" fill="#2acb86"/>
<rect x="49.2" y="149.5" width="3.8" height="3.0" fill="#2acb86"/>
<rect x="55.8" y="149.5" width="1" height="8.0" fill="#ea4160"/>
<rect x="54.4" y="150.0" width="3.8" height="6.2" fill="#ea4160"/>
<rect x="61.1" y="140.0" width="1" height="12.5" fill="#2acb86"/>
<rect x="59.7" y="144.5" width="3.8" height="5.0" fill="#2acb86"/>
<rect x="66.3" y="130.0" width="1" height="13.8" fill="#2acb86"/>
<rect x="64.9" y="133.8" width="3.8" height="8.8" fill="#2acb86"/>
<rect x="71.6" y="135.0" width="1" height="8.8" fill="#ea4160"/>
<rect x="70.2" y="136.2" width="3.8" height="5.8" fill="#ea4160"/>
<rect x="76.8" y="133.8" width="1" height="9.2" fill="#ea4160"/>
<rect x="75.4" y="135.0" width="3.8" height="7.5" fill="#ea4160"/>
<rect x="82.1" y="138.8" width="1" height="8.2" fill="#ea4160"/>
<rect x="80.7" y="139.5" width="3.8" height="4.2" fill="#ea4160"/>
<rect x="87.3" y="126.2" width="1" height="12.5" fill="#2acb86"/>
<rect x="85.9" y="136.2" width="3.8" height="2.5" fill="#2acb86"/>
<rect x="92.6" y="121.2" width="1" height="11.2" fill="#2acb86"/>
<rect x="91.2" y="121.2" width="3.8" height="2.0" fill="#2acb86"/>
<rect x="97.8" y="128.8" width="1" height="7.5" fill="#ea4160"/>
<rect x="96.4" y="128.8" width="3.8" height="1.2" fill="#ea4160"/>
<rect x="103.1" y="117.5" width="1" height="13.8" fill="#ea4160"/>
<rect x="101.7" y="120.0" width="3.8" height="10.8" fill="#ea4160"/>
<rect x="108.4" y="120.5" width="1" height="7.0" fill="#2acb86"/>
<rect x="107.0" y="120.5" width="3.8" height="4.5" fill="#2acb86"/>
<rect x="113.6" y="111.2" width="1" height="11.8" fill="#2acb86"/>
<rect x="112.2" y="112.5" width="3.8" height="9.5" fill="#2acb86"/>
<rect x="118.9" y="108.8" width="1" height="10.0" fill="#2acb86"/>
<rect x="117.5" y="111.2" width="3.8" height="2.5" fill="#2acb86"/>
<rect x="124.1" y="98.8" width="1" height="11.8" fill="#2acb86"/>
<rect x="122.7" y="100.0" width="3.8" height="6.2" fill="#2acb86"/>
<rect x="129.4" y="95.0" width="1" height="9.5" fill="#ea4160"/>
<rect x="128.0" y="100.5" width="3.8" height="2.8" fill="#ea4160"/>
<rect x="134.6" y="105.5" width="1" height="17.5" fill="#ea4160"/>
<rect x="133.2" y="107.5" width="3.8" height="13.8" fill="#ea4160"/>
<rect x="139.9" y="110.0" width="1" height="9.5" fill="#2acb86"/>
<rect x="138.5" y="112.0" width="3.8" height="3.5" fill="#2acb86"/>
<rect x="145.1" y="103.2" width="1" height="12.5" fill="#2acb86"/>
<rect x="143.7" y="104.5" width="3.8" height="10.5" fill="#2acb86"/>
<rect x="150.4" y="99.5" width="1" height="13.0" fill="#2acb86"/>
<rect x="149.0" y="100.8" width="3.8" height="8.0" fill="#2acb86"/>
<rect x="155.6" y="105.0" width="1" height="10.5" fill="#ea4160"/>
<rect x="154.2" y="106.2" width="3.8" height="1.2" fill="#ea4160"/>
<rect x="160.9" y="95.0" width="1" height="18.8" fill="#2acb86"/>
<rect x="159.5" y="96.2" width="3.8" height="10.8" fill="#2acb86"/>
<rect x="166.1" y="86.2" width="1" height="14.2" fill="#2acb86"/>
<rect x="164.7" y="86.2" width="3.8" height="14.2" fill="#2acb86"/>
<rect x="171.4" y="86.2" width="1" height="13.2" fill="#ea4160"/>
<rect x="170.0" y="87.5" width="3.8" height="11.2" fill="#ea4160"/>
<rect x="176.6" y="99.5" width="1" height="6.8" fill="#ea4160"/>
<rect x="175.2" y="101.2" width="3.8" height="1.2" fill="#ea4160"/>
<rect x="181.9" y="103.2" width="1" height="8.0" fill="#ea4160"/>
<rect x="180.5" y="103.8" width="3.8" height="6.8" fill="#ea4160"/>
<rect x="187.1" y="102.5" width="1" height="10.5" fill="#2acb86"/>
<rect x="185.7" y="102.5" width="3.8" height="7.5" fill="#2acb86"/>
<rect x="192.4" y="91.2" width="1" height="16.2" fill="#2acb86"/>
<rect x="191.0" y="94.2" width="3.8" height="10.8" fill="#2acb86"/>
<rect x="197.7" y="92.0" width="1" height="24.2" fill="#ea4160"/>
<rect x="196.3" y="93.8" width="3.8" height="13.8" fill="#ea4160"/>
<rect x="202.9" y="113.8" width="1" height="10.8" fill="#ea4160"/>
<rect x="201.5" y="116.2" width="3.8" height="5.0" fill="#ea4160"/>
<rect x="208.2" y="129.2" width="1" height="17.0" fill="#ea4160"/>
<rect x="206.8" y="131.2" width="3.8" height="10.0" fill="#ea4160"/>
<rect x="213.4" y="135.0" width="1" height="10.0" fill="#2acb86"/>
<rect x="212.0" y="137.0" width="3.8" height="4.2" fill="#2acb86"/>
<rect x="218.7" y="135.0" width="1" height="8.0" fill="#ea4160"/>
<rect x="217.3" y="137.0" width="3.8" height="4.2" fill="#ea4160"/>
<rect x="223.9" y="132.0" width="1" height="17.5" fill="#ea4160"/>
<rect x="222.5" y="135.0" width="3.8" height="13.8" fill="#ea4160"/>
<rect x="229.2" y="141.2" width="1" height="8.2" fill="#2acb86"/>
<rect x="227.8" y="143.8" width="3.8" height="4.2" fill="#2acb86"/>
<rect x="234.4" y="143.8" width="1" height="6.2" fill="#ea4160"/>
<rect x="233.0" y="146.2" width="3.8" height="1.8" fill="#ea4160"/>
<rect x="239.7" y="142.5" width="1" height="11.2" fill="#2acb86"/>
<rect x="238.3" y="143.8" width="3.8" height="6.8" fill="#2acb86"/>
<rect x="244.9" y="150.5" width="1" height="7.0" fill="#ea4160"/>
<rect x="243.5" y="151.2" width="3.8" height="5.0" fill="#ea4160"/>
<rect x="250.2" y="145.0" width="1" height="15.0" fill="#2acb86"/>
<rect x="248.8" y="148.0" width="3.8" height="8.2" fill="#2acb86"/>
<rect x="255.4" y="151.2" width="1" height="10.0" fill="#ea4160"/>
<rect x="254.0" y="156.2" width="3.8" height="2.5" fill="#ea4160"/>
<rect x="260.7" y="157.5" width="1" height="9.5" fill="#ea4160"/>
<rect x="259.3" y="158.0" width="3.8" height="8.2" fill="#ea4160"/>
<rect x="265.9" y="167.0" width="1" height="12.5" fill="#ea4160"/>
<rect x="264.5" y="167.5" width="3.8" height="10.0" fill="#ea4160"/>
<rect x="271.2" y="175.5" width="1" height="15.0" fill="#ea4160"/>
<rect x="269.8" y="178.0" width="3.8" height="11.5" fill="#ea4160"/>
<rect x="276.4" y="183.0" width="1" height="14.5" fill="#2acb86"/>
<rect x="275.1" y="186.2" width="3.8" height="8.8" fill="#2acb86"/>
<rect x="281.7" y="178.8" width="1" height="7.5" fill="#2acb86"/>
<rect x="280.3" y="179.5" width="3.8" height="6.0" fill="#2acb86"/>
<rect x="287.0" y="173.8" width="1" height="9.2" fill="#2acb86"/>
<rect x="285.6" y="177.5" width="3.8" height="2.5" fill="#2acb86"/>
<rect x="292.2" y="148.0" width="1" height="23.2" fill="#2acb86"/>
<rect x="290.8" y="153.0" width="3.8" height="17.5" fill="#2acb86"/>
<rect x="297.5" y="148.8" width="1" height="8.8" fill="#2acb86"/>
<rect x="296.1" y="150.0" width="3.8" height="7.0" fill="#2acb86"/>
<rect x="302.7" y="140.5" width="1" height="7.5" fill="#2acb86"/>
<rect x="301.3" y="141.2" width="3.8" height="4.5" fill="#2acb86"/>
<rect x="308.0" y="141.2" width="1" height="6.8" fill="#ea4160"/>
<rect x="306.6" y="143.2" width="3.8" height="3.0" fill="#ea4160"/>
<rect x="313.2" y="149.5" width="1" height="21.0" fill="#ea4160"/>
<rect x="311.8" y="150.0" width="3.8" height="17.5" fill="#ea4160"/>
<rect x="318.5" y="146.2" width="1" height="20.0" fill="#2acb86"/>
<rect x="317.1" y="155.8" width="3.8" height="2.2" fill="#2acb86"/>
<rect x="323.7" y="151.2" width="1" height="16.8" fill="#ea4160"/>
<rect x="322.3" y="155.0" width="3.8" height="12.0" fill="#ea4160"/>
<rect x="329.0" y="147.5" width="1" height="20.5" fill="#2acb86"/>
<rect x="327.6" y="158.0" width="3.8" height="9.0" fill="#2acb86"/>
<rect x="334.2" y="133.8" width="1" height="21.2" fill="#2acb86"/>
<rect x="332.8" y="144.5" width="3.8" height="7.5" fill="#2acb86"/>
<rect x="339.5" y="140.5" width="1" height="7.5" fill="#2acb86"/>
<rect x="338.1" y="141.2" width="3.8" height="4.5" fill="#2acb86"/>
<rect x="344.7" y="133.8" width="1" height="17.5" fill="#ea4160"/>
<rect x="343.3" y="135.5" width="3.8" height="10.8" fill="#ea4160"/>
<rect x="350.0" y="140.5" width="1" height="16.5" fill="#2acb86"/>
<rect x="348.6" y="141.2" width="3.8" height="5.8" fill="#2acb86"/>
<rect x="355.2" y="106.2" width="1" height="32.5" fill="#2acb86"/>
<rect x="353.8" y="115.0" width="3.8" height="23.2" fill="#2acb86"/>
<rect x="360.5" y="103.2" width="1" height="13.0" fill="#2acb86"/>
<rect x="359.1" y="110.0" width="3.8" height="1.2" fill="#2acb86"/>
<rect x="365.8" y="118.8" width="1" height="12.5" fill="#ea4160"/>
<rect x="364.4" y="121.2" width="3.8" height="5.8" fill="#ea4160"/>
<rect x="371.0" y="120.0" width="1" height="10.0" fill="#2acb86"/>
<rect x="369.6" y="121.8" width="3.8" height="4.5" fill="#2acb86"/>
<rect x="376.3" y="108.0" width="1" height="10.5" fill="#2acb86"/>
<rect x="374.9" y="115.2" width="3.8" height="2.5" fill="#2acb86"/>
<rect x="381.5" y="107.2" width="1" height="11.8" fill="#2acb86"/>
<rect x="380.1" y="111.0" width="3.8" height="3.0" fill="#2acb86"/>
<rect x="386.8" y="112.2" width="1" height="10.8" fill="#ea4160"/>
<rect x="385.4" y="113.5" width="3.8" height="7.5" fill="#ea4160"/>
<rect x="392.0" y="106.5" width="1" height="12.0" fill="#2acb86"/>
<rect x="390.6" y="108.0" width="3.8" height="3.5" fill="#2acb86"/>
<rect x="397.3" y="106.0" width="1" height="7.0" fill="#ea4160"/>
<rect x="395.9" y="110.2" width="3.8" height="2.0" fill="#ea4160"/>
<rect x="402.5" y="105.5" width="1" height="8.0" fill="#2acb86"/>
<rect x="401.1" y="106.0" width="3.8" height="1.8" fill="#2acb86"/>
<rect x="407.8" y="102.2" width="1" height="10.0" fill="#2acb86"/>
<rect x="406.4" y="106.0" width="3.8" height="1.2" fill="#2acb86"/>
<rect x="413.0" y="86.0" width="1" height="19.5" fill="#2acb86"/>
<rect x="411.6" y="87.8" width="3.8" height="15.8" fill="#2acb86"/>
<rect x="418.3" y="69.8" width="1" height="20.0" fill="#2acb86"/>
<rect x="416.9" y="71.0" width="3.8" height="18.0" fill="#2acb86"/>
<rect x="423.5" y="59.8" width="1" height="25.8" fill="#ea4160"/>
<rect x="422.1" y="62.8" width="3.8" height="14.0" fill="#ea4160"/>
<rect x="428.8" y="71.8" width="1" height="9.8" fill="#2acb86"/>
<rect x="427.4" y="74.2" width="3.8" height="6.2" fill="#2acb86"/>
<rect x="434.0" y="78.0" width="1" height="6.0" fill="#ea4160"/>
<rect x="432.6" y="79.8" width="3.8" height="2.5" fill="#ea4160"/>
<rect x="439.3" y="70.5" width="1" height="8.0" fill="#2acb86"/>
<rect x="437.9" y="74.8" width="3.8" height="3.2" fill="#2acb86"/>
<rect x="444.5" y="65.5" width="1" height="6.8" fill="#2acb86"/>
<rect x="443.1" y="67.2" width="3.8" height="3.0" fill="#2acb86"/>
<rect x="449.8" y="54.8" width="1" height="12.5" fill="#2acb86"/>
<rect x="448.4" y="62.2" width="3.8" height="3.2" fill="#2acb86"/>
<rect x="455.1" y="63.0" width="1" height="15.0" fill="#ea4160"/>
<rect x="453.7" y="66.0" width="3.8" height="7.0" fill="#ea4160"/>
<rect x="460.3" y="68.5" width="1" height="7.5" fill="#ea4160"/>
<rect x="458.9" y="69.8" width="3.8" height="2.0" fill="#ea4160"/>
<rect x="465.6" y="61.8" width="1" height="11.2" fill="#ea4160"/>
<rect x="464.2" y="71.0" width="3.8" height="1.2" fill="#ea4160"/>
<rect x="470.8" y="73.5" width="1" height="10.5" fill="#ea4160"/>
<rect x="469.4" y="81.0" width="3.8" height="1.2" fill="#ea4160"/>
<rect x="476.1" y="73.5" width="1" height="8.8" fill="#2acb86"/>
<rect x="474.7" y="78.0" width="3.8" height="2.5" fill="#2acb86"/>
<rect x="481.3" y="78.5" width="1" height="8.8" fill="#ea4160"/>
<rect x="479.9" y="81.0" width="3.8" height="3.2" fill="#ea4160"/>
<rect x="486.6" y="81.0" width="1" height="8.8" fill="#ea4160"/>
<rect x="485.2" y="82.2" width="3.8" height="2.5" fill="#ea4160"/>
<rect x="491.8" y="78.0" width="1" height="9.2" fill="#2acb86"/>
<rect x="490.4" y="79.0" width="3.8" height="7.0" fill="#2acb86"/>
<rect x="497.1" y="73.5" width="1" height="13.8" fill="#ea4160"/>
<rect x="495.7" y="75.5" width="3.8" height="9.2" fill="#ea4160"/>
<rect x="502.3" y="75.5" width="1" height="14.2" fill="#2acb86"/>
<rect x="500.9" y="76.8" width="3.8" height="12.2" fill="#2acb86"/>
<rect x="507.6" y="76.0" width="1" height="10.0" fill="#ea4160"/>
<rect x="506.2" y="78.0" width="3.8" height="6.0" fill="#ea4160"/>
<rect x="512.8" y="71.0" width="1" height="10.5" fill="#2acb86"/>
<rect x="511.4" y="74.0" width="3.8" height="3.2" fill="#2acb86"/>
<rect x="518.1" y="59.8" width="1" height="18.2" fill="#2acb86"/>
<rect x="516.7" y="61.8" width="3.8" height="15.5" fill="#2acb86"/>
<rect x="523.3" y="57.2" width="1" height="12.5" fill="#ea4160"/>
<rect x="521.9" y="61.0" width="3.8" height="2.5" fill="#ea4160"/>
<rect x="528.6" y="50.5" width="1" height="10.5" fill="#2acb86"/>
<rect x="527.2" y="57.2" width="3.8" height="2.0" fill="#2acb86"/>
<rect x="533.8" y="51.0" width="1" height="19.5" fill="#2acb86"/>
<rect x="532.4" y="55.2" width="3.8" height="12.8" fill="#2acb86"/>
<rect x="539.1" y="46.5" width="1" height="10.8" fill="#2acb86"/>
<rect x="537.7" y="52.8" width="3.8" height="2.0" fill="#2acb86"/>
<rect x="544.4" y="48.5" width="1" height="7.0" fill="#2acb86"/>
<rect x="543.0" y="49.0" width="3.8" height="5.8" fill="#2acb86"/>
<rect x="549.6" y="48.0" width="1" height="15.0" fill="#ea4160"/>
<rect x="548.2" y="48.5" width="3.8" height="6.8" fill="#ea4160"/>
<rect x="554.9" y="63.0" width="1" height="10.5" fill="#ea4160"/>
<rect x="553.5" y="63.5" width="3.8" height="8.8" fill="#ea4160"/>
<rect x="560.1" y="63.5" width="1" height="10.0" fill="#2acb86"/>
<rect x="558.7" y="64.0" width="3.8" height="8.8" fill="#2acb86"/>
<rect x="565.4" y="56.0" width="1" height="7.0" fill="#2acb86"/>
<rect x="564.0" y="59.0" width="3.8" height="2.5" fill="#2acb86"/>
<rect x="570.6" y="61.0" width="1" height="16.2" fill="#ea4160"/>
<rect x="569.2" y="64.8" width="3.8" height="10.0" fill="#ea4160"/>
<rect x="575.9" y="74.8" width="1" height="10.0" fill="#ea4160"/>
<rect x="574.5" y="74.8" width="3.8" height="1.8" fill="#ea4160"/>
<rect x="581.1" y="79.8" width="1" height="13.2" fill="#ea4160"/>
<rect x="579.7" y="81.0" width="3.8" height="5.0" fill="#ea4160"/>
<rect x="586.4" y="73.5" width="1" height="10.0" fill="#2acb86"/>
<rect x="585.0" y="77.8" width="3.8" height="2.0" fill="#2acb86"/>
<rect x="591.6" y="76.5" width="1" height="7.5" fill="#ea4160"/>
<rect x="590.2" y="79.0" width="3.8" height="2.5" fill="#ea4160"/>
<rect x="596.9" y="84.8" width="1" height="3.8" fill="#ea4160"/>
<rect x="595.5" y="85.5" width="3.8" height="2.2" fill="#ea4160"/>
<rect x="602.1" y="86.8" width="1" height="14.2" fill="#ea4160"/>
<rect x="600.7" y="87.2" width="3.8" height="13.2" fill="#ea4160"/>
<rect x="607.4" y="103.0" width="1" height="5.5" fill="#ea4160"/>
<rect x="606.0" y="103.5" width="3.8" height="4.2" fill="#ea4160"/>
<rect x="612.6" y="99.8" width="1" height="9.2" fill="#2acb86"/>
<rect x="611.2" y="100.2" width="3.8" height="7.0" fill="#2acb86"/>
<rect x="617.9" y="106.8" width="1" height="15.0" fill="#ea4160"/>
<rect x="616.5" y="107.8" width="3.8" height="10.8" fill="#ea4160"/>
<rect x="623.1" y="99.8" width="1" height="19.2" fill="#2acb86"/>
<rect x="621.7" y="107.8" width="3.8" height="10.0" fill="#2acb86"/>
<rect x="628.4" y="91.0" width="1" height="17.5" fill="#2acb86"/>
<rect x="627.0" y="91.5" width="3.8" height="16.2" fill="#2acb86"/>
<rect x="633.7" y="84.0" width="1" height="21.5" fill="#ea4160"/>
<rect x="632.3" y="87.8" width="3.8" height="12.8" fill="#ea4160"/>
<rect x="638.9" y="94.0" width="1" height="10.8" fill="#2acb86"/>
<rect x="637.5" y="99.2" width="3.8" height="4.8" fill="#2acb86"/>
<rect x="644.2" y="96.5" width="1" height="8.2" fill="#2acb86"/>
<rect x="642.8" y="98.5" width="3.8" height="1.8" fill="#2acb86"/>
<rect x="649.4" y="94.8" width="1" height="13.0" fill="#ea4160"/>
<rect x="648.0" y="97.8" width="3.8" height="9.5" fill="#ea4160"/>
<rect x="654.7" y="96.8" width="1" height="8.8" fill="#2acb86"/>
<rect x="653.3" y="100.2" width="3.8" height="2.0" fill="#2acb86"/>
<rect x="659.9" y="97.2" width="1" height="10.5" fill="#ea4160"/>
<rect x="658.5" y="100.2" width="3.8" height="6.5" fill="#ea4160"/>
<rect x="665.2" y="106.0" width="1" height="8.8" fill="#ea4160"/>
<rect x="663.8" y="106.8" width="3.8" height="1.8" fill="#ea4160"/>
<rect x="670.4" y="101.5" width="1" height="9.5" fill="#ea4160"/>
<rect x="669.0" y="104.8" width="3.8" height="5.5" fill="#ea4160"/>
<rect x="675.7" y="102.2" width="1" height="10.8" fill="#ea4160"/>
<rect x="674.3" y="103.0" width="3.8" height="8.5" fill="#ea4160"/>
<rect x="680.9" y="108.5" width="1" height="9.5" fill="#2acb86"/>
<rect x="679.5" y="109.8" width="3.8" height="3.0" fill="#2acb86"/>
<rect x="686.2" y="99.8" width="1" height="10.5" fill="#2acb86"/>
<rect x="684.8" y="106.5" width="3.8" height="2.8" fill="#2acb86"/>
<rect x="691.4" y="113.5" width="1" height="22.5" fill="#ea4160"/>
<rect x="690.0" y="114.0" width="3.8" height="22.0" fill="#ea4160"/>
<rect x="696.7" y="134.8" width="1" height="10.8" fill="#ea4160"/>
<rect x="695.3" y="136.0" width="3.8" height="2.5" fill="#ea4160"/>
<rect x="701.9" y="133.5" width="1" height="12.5" fill="#2acb86"/>
<rect x="700.5" y="134.2" width="3.8" height="11.0" fill="#2acb86"/>
<rect x="707.2" y="128.0" width="1" height="8.0" fill="#2acb86"/>
<rect x="705.8" y="131.8" width="3.8" height="1.8" fill="#2acb86"/>
<rect x="712.4" y="126.0" width="1" height="8.8" fill="#2acb86"/>
<rect x="711.0" y="129.8" width="3.8" height="2.5" fill="#2acb86"/>
<rect x="717.7" y="129.0" width="1" height="12.0" fill="#ea4160"/>
<rect x="716.3" y="131.0" width="3.8" height="3.8" fill="#ea4160"/>
<rect x="723.0" y="129.8" width="1" height="13.8" fill="#ea4160"/>
<rect x="721.6" y="130.2" width="3.8" height="12.0" fill="#ea4160"/>
<rect x="728.2" y="133.5" width="1" height="13.8" fill="#2acb86"/>
<rect x="726.8" y="134.0" width="3.8" height="12.5" fill="#2acb86"/>
<rect x="733.5" y="118.0" width="1" height="15.0" fill="#2acb86"/>
<rect x="732.1" y="119.2" width="3.8" height="12.5" fill="#2acb86"/>
<rect x="738.7" y="110.0" width="1" height="10.8" fill="#2acb86"/>
<rect x="737.3" y="111.2" width="3.8" height="8.8" fill="#2acb86"/>
<rect x="744.0" y="112.5" width="1" height="18.2" fill="#ea4160"/>
<rect x="742.6" y="113.2" width="3.8" height="16.8" fill="#ea4160"/>
<rect x="749.2" y="131.8" width="1" height="13.8" fill="#ea4160"/>
<rect x="747.8" y="133.0" width="3.8" height="7.0" fill="#ea4160"/>
<rect x="754.5" y="128.8" width="1" height="10.0" fill="#2acb86"/>
<rect x="753.1" y="133.8" width="3.8" height="3.8" fill="#2acb86"/>
<rect x="759.7" y="125.0" width="1" height="14.5" fill="#2acb86"/>
<rect x="758.3" y="126.2" width="3.8" height="12.5" fill="#2acb86"/>
<rect x="765.0" y="122.5" width="1" height="6.2" fill="#2acb86"/>
<rect x="763.6" y="123.0" width="3.8" height="2.5" fill="#2acb86"/>
<rect x="770.2" y="103.0" width="1" height="16.5" fill="#2acb86"/>
<rect x="768.8" y="104.5" width="3.8" height="14.2" fill="#2acb86"/>
<rect x="775.5" y="96.2" width="1" height="8.8" fill="#2acb86"/>
<rect x="774.1" y="102.5" width="3.8" height="2.0" fill="#2acb86"/>
<rect x="780.7" y="98.0" width="1" height="8.8" fill="#ea4160"/>
<rect x="779.3" y="103.2" width="3.8" height="3.0" fill="#ea4160"/>
<rect x="786.0" y="104.5" width="1" height="8.0" fill="#2acb86"/>
<rect x="784.6" y="105.0" width="3.8" height="5.0" fill="#2acb86"/>
<rect x="791.2" y="96.2" width="1" height="11.2" fill="#2acb86"/>
<rect x="789.8" y="96.8" width="3.8" height="6.2" fill="#2acb86"/>
<rect x="796.5" y="93.2" width="1" height="6.8" fill="#2acb86"/>
<rect x="795.1" y="96.8" width="3.8" height="1.2" fill="#2acb86"/>
<rect x="801.8" y="93.2" width="1" height="10.5" fill="#ea4160"/>
<rect x="800.4" y="96.2" width="3.8" height="7.0" fill="#ea4160"/>
<rect x="807.0" y="100.0" width="1" height="6.8" fill="#ea4160"/>
<rect x="805.6" y="104.2" width="3.8" height="2.0" fill="#ea4160"/>
<rect x="812.3" y="102.5" width="1" height="7.0" fill="#ea4160"/>
<rect x="810.9" y="105.0" width="3.8" height="1.2" fill="#ea4160"/>
<rect x="817.5" y="95.0" width="1" height="9.5" fill="#2acb86"/>
<rect x="816.1" y="96.8" width="3.8" height="7.0" fill="#2acb86"/>
<rect x="822.8" y="97.0" width="1" height="6.8" fill="#ea4160"/>
<rect x="821.4" y="98.8" width="3.8" height="2.0" fill="#ea4160"/>
<rect x="828.0" y="102.0" width="1" height="16.0" fill="#ea4160"/>
<rect x="826.6" y="102.5" width="3.8" height="14.5" fill="#ea4160"/>
<rect x="833.3" y="112.0" width="1" height="7.2" fill="#2acb86"/>
<rect x="831.9" y="112.5" width="3.8" height="2.0" fill="#2acb86"/>
<rect x="838.5" y="100.0" width="1" height="10.8" fill="#2acb86"/>
<rect x="837.1" y="106.2" width="3.8" height="3.8" fill="#2acb86"/>
<rect x="843.8" y="115.5" width="1" height="6.5" fill="#ea4160"/>
<rect x="842.4" y="116.2" width="3.8" height="3.0" fill="#ea4160"/>
<rect x="849.0" y="119.5" width="1" height="16.8" fill="#ea4160"/>
<rect x="847.6" y="120.0" width="3.8" height="15.8" fill="#ea4160"/>
<rect x="854.3" y="130.8" width="1" height="8.0" fill="#2acb86"/>
<rect x="852.9" y="134.2" width="3.8" height="2.0" fill="#2acb86"/>
<rect x="859.5" y="126.2" width="1" height="8.2" fill="#2acb86"/>
<rect x="858.1" y="129.2" width="3.8" height="4.5" fill="#2acb86"/>
<rect x="864.8" y="128.8" width="1" height="7.5" fill="#ea4160"/>
<rect x="863.4" y="129.5" width="3.8" height="5.0" fill="#ea4160"/>
<rect x="870.0" y="133.8" width="1" height="11.2" fill="#ea4160"/>
<rect x="868.6" y="136.8" width="3.8" height="4.5" fill="#ea4160"/>
<rect x="875.3" y="128.2" width="1" height="10.5" fill="#2acb86"/>
<rect x="873.9" y="130.0" width="3.8" height="6.8" fill="#2acb86"/>
<rect x="880.5" y="120.0" width="1" height="11.8" fill="#2acb86"/>
<rect x="879.1" y="125.0" width="3.8" height="5.0" fill="#2acb86"/>
<rect x="885.8" y="117.0" width="1" height="16.8" fill="#2acb86"/>
<rect x="884.4" y="118.0" width="3.8" height="15.2" fill="#2acb86"/>
<rect x="891.1" y="121.2" width="1" height="6.2" fill="#ea4160"/>
<rect x="889.7" y="121.8" width="3.8" height="1.5" fill="#ea4160"/>
<rect x="896.3" y="123.8" width="1" height="16.2" fill="#ea4160"/>
<rect x="894.9" y="124.5" width="3.8" height="14.2" fill="#ea4160"/>
<rect x="901.6" y="132.5" width="1" height="9.5" fill="#2acb86"/>
<rect x="900.2" y="135.0" width="3.8" height="6.2" fill="#2acb86"/>
<rect x="906.8" y="130.8" width="1" height="16.2" fill="#ea4160"/>
<rect x="905.4" y="135.8" width="3.8" height="10.5" fill="#ea4160"/>
<rect x="912.1" y="145.0" width="1" height="6.8" fill="#ea4160"/>
<rect x="910.7" y="146.2" width="3.8" height="2.5" fill="#ea4160"/>
<rect x="917.3" y="141.2" width="1" height="6.8" fill="#2acb86"/>
<rect x="915.9" y="141.8" width="3.8" height="4.5" fill="#2acb86"/>
<rect x="922.6" y="134.5" width="1" height="7.5" fill="#2acb86"/>
<rect x="921.2" y="135.8" width="3.8" height="5.5" fill="#2acb86"/>
<rect x="927.8" y="123.8" width="1" height="8.8" fill="#2acb86"/>
<rect x="926.4" y="127.0" width="3.8" height="4.8" fill="#2acb86"/>
<rect x="933.1" y="125.5" width="1" height="9.0" fill="#ea4160"/>
<rect x="931.7" y="129.5" width="3.8" height="1.8" fill="#ea4160"/>
<rect x="938.3" y="126.2" width="1" height="16.2" fill="#ea4160"/>
<rect x="936.9" y="132.0" width="3.8" height="3.0" fill="#ea4160"/>
<rect x="943.6" y="122.5" width="1" height="11.2" fill="#2acb86"/>
<rect x="942.2" y="123.8" width="3.8" height="8.8" fill="#2acb86"/>
<rect x="948.8" y="112.0" width="1" height="17.5" fill="#2acb86"/>
<rect x="947.4" y="113.0" width="3.8" height="15.8" fill="#2acb86"/>
<rect x="954.1" y="105.8" width="1" height="9.8" fill="#2acb86"/>
<rect x="952.7" y="110.0" width="3.8" height="3.2" fill="#2acb86"/>
<rect x="959.3" y="110.0" width="1" height="9.5" fill="#ea4160"/>
<rect x="957.9" y="111.8" width="3.8" height="2.8" fill="#ea4160"/>
<rect x="964.6" y="103.8" width="1" height="13.0" fill="#ea4160"/>
<rect x="963.2" y="106.8" width="3.8" height="9.0" fill="#ea4160"/>
<rect x="969.8" y="112.5" width="1" height="13.8" fill="#ea4160"/>
<rect x="968.4" y="118.8" width="3.8" height="6.8" fill="#ea4160"/>
<rect x="975.1" y="121.2" width="1" height="10.0" fill="#ea4160"/>
<rect x="973.7" y="125.0" width="3.8" height="1.8" fill="#ea4160"/>
<rect x="980.4" y="122.5" width="1" height="6.2" fill="#ea4160"/>
<rect x="979.0" y="126.2" width="3.8" height="1.2" fill="#ea4160"/>
<rect x="985.6" y="120.8" width="1" height="12.5" fill="#ea4160"/>
<rect x="984.2" y="126.2" width="3.8" height="6.8" fill="#ea4160"/>
<rect x="990.9" y="121.8" width="1" height="5.8" fill="#2acb86"/>
<rect x="989.5" y="124.2" width="3.8" height="1.2" fill="#2acb86"/>
<rect x="996.1" y="121.2" width="1" height="10.0" fill="#2acb86"/>
<rect x="994.7" y="122.5" width="3.8" height="7.5" fill="#2acb86"/>
<rect x="1001.4" y="120.8" width="1" height="7.2" fill="#ea4160"/>
<rect x="1000.0" y="123.2" width="3.8" height="3.8" fill="#ea4160"/>
<rect x="1006.6" y="116.2" width="1" height="9.2" fill="#2acb86"/>
<rect x="1005.2" y="120.8" width="3.8" height="3.8" fill="#2acb86"/>
<rect x="1011.9" y="106.2" width="1" height="12.5" fill="#2acb86"/>
<rect x="1010.5" y="113.2" width="3.8" height="4.8" fill="#2acb86"/>
<rect x="1017.1" y="109.5" width="1" height="6.0" fill="#2acb86"/>
<rect x="1015.7" y="111.8" width="3.8" height="2.0" fill="#2acb86"/>
<rect x="1022.4" y="109.5" width="1" height="8.5" fill="#ea4160"/>
<rect x="1021.0" y="111.2" width="3.8" height="5.8" fill="#ea4160"/>
<rect x="1027.6" y="106.2" width="1" height="10.0" fill="#2acb86"/>
<rect x="1026.2" y="113.8" width="3.8" height="1.8" fill="#2acb86"/>
<rect x="1032.9" y="123.8" width="1" height="10.0" fill="#ea4160"/>
<rect x="1031.5" y="125.0" width="3.8" height="2.5" fill="#ea4160"/>
<rect x="1038.1" y="117.5" width="1" height="10.0" fill="#2acb86"/>
<rect x="1036.7" y="121.2" width="3.8" height="5.5" fill="#2acb86"/>
<rect x="1043.4" y="128.0" width="1" height="9.5" fill="#ea4160"/>
<rect x="1042.0" y="128.8" width="3.8" height="8.0" fill="#ea4160"/>
<rect x="1048.6" y="140.0" width="1" height="14.2" fill="#ea4160"/>
<rect x="1047.2" y="140.5" width="3.8" height="13.2" fill="#ea4160"/>
<rect x="1053.9" y="154.5" width="1" height="12.5" fill="#ea4160"/>
<rect x="1052.5" y="155.0" width="3.8" height="5.8" fill="#ea4160"/>
<rect x="1059.1" y="152.0" width="1" height="8.0" fill="#2acb86"/>
<rect x="1057.7" y="153.0" width="3.8" height="5.8" fill="#2acb86"/>
<rect x="1064.4" y="144.2" width="1" height="12.8" fill="#ea4160"/>
<rect x="1063.0" y="145.0" width="3.8" height="10.0" fill="#ea4160"/>
<rect x="1069.7" y="157.5" width="1" height="13.2" fill="#ea4160"/>
<rect x="1068.3" y="159.2" width="3.8" height="8.2" fill="#ea4160"/>
<rect x="1074.9" y="164.5" width="1" height="10.0" fill="#2acb86"/>
<rect x="1073.5" y="166.2" width="3.8" height="4.2" fill="#2acb86"/>
<rect x="1080.2" y="163.8" width="1" height="13.8" fill="#ea4160"/>
<rect x="1078.8" y="164.2" width="3.8" height="10.8" fill="#ea4160"/>
<rect x="1085.4" y="164.5" width="1" height="10.5" fill="#2acb86"/>
<rect x="1084.0" y="165.0" width="3.8" height="9.2" fill="#2acb86"/>
<rect x="1090.7" y="156.2" width="1" height="12.0" fill="#2acb86"/>
<rect x="1089.3" y="159.5" width="3.8" height="6.0" fill="#2acb86"/>
<rect x="1095.9" y="143.8" width="1" height="13.2" fill="#2acb86"/>
<rect x="1094.5" y="145.5" width="3.8" height="10.8" fill="#2acb86"/>
<rect x="1101.2" y="143.8" width="1" height="8.8" fill="#ea4160"/>
<rect x="1099.8" y="145.0" width="3.8" height="6.2" fill="#ea4160"/>
<rect x="1106.4" y="140.0" width="1" height="10.0" fill="#2acb86"/>
<rect x="1105.0" y="142.0" width="3.8" height="3.0" fill="#2acb86"/>
<rect x="1111.7" y="139.5" width="1" height="13.5" fill="#ea4160"/>
<rect x="1110.3" y="142.5" width="3.8" height="8.8" fill="#ea4160"/>
<rect x="1116.9" y="131.2" width="1" height="10.0" fill="#2acb86"/>
<rect x="1115.5" y="133.0" width="3.8" height="3.2" fill="#2acb86"/>
<rect x="1122.2" y="126.2" width="1" height="10.8" fill="#2acb86"/>
<rect x="1120.8" y="132.0" width="3.8" height="3.8" fill="#2acb86"/>
<rect x="1127.4" y="125.0" width="1" height="9.5" fill="#2acb86"/>
<rect x="1126.0" y="125.8" width="3.8" height="8.0" fill="#2acb86"/>
<rect x="1132.7" y="118.8" width="1" height="11.8" fill="#ea4160"/>
<rect x="1131.3" y="121.2" width="3.8" height="8.2" fill="#ea4160"/>
<rect x="1137.9" y="128.0" width="1" height="12.0" fill="#ea4160"/>
<rect x="1136.5" y="129.2" width="3.8" height="7.8" fill="#ea4160"/>
<rect x="1143.2" y="127.5" width="1" height="9.5" fill="#2acb86"/>
<rect x="1141.8" y="132.5" width="3.8" height="2.0" fill="#2acb86"/>
<rect x="1148.4" y="127.0" width="1" height="18.0" fill="#2acb86"/>
<rect x="1147.0" y="132.0" width="3.8" height="4.2" fill="#2acb86"/>
<rect x="1153.7" y="133.8" width="1" height="3.8" fill="#ea4160"/>
<rect x="1152.3" y="135.0" width="3.8" height="1.2" fill="#ea4160"/>
<rect x="1159.0" y="129.5" width="1" height="10.0" fill="#ea4160"/>
<rect x="1157.6" y="137.0" width="3.8" height="1.8" fill="#ea4160"/>
<rect x="1164.2" y="141.2" width="1" height="17.5" fill="#ea4160"/>
<rect x="1162.8" y="142.0" width="3.8" height="11.8" fill="#ea4160"/>
<rect x="1169.5" y="138.2" width="1" height="16.8" fill="#2acb86"/>
<rect x="1168.1" y="139.2" width="3.8" height="10.8" fill="#2acb86"/>
<rect x="1174.7" y="145.0" width="1" height="46.2" fill="#ea4160"/>
<rect x="1173.3" y="145.8" width="3.8" height="36.8" fill="#ea4160"/>
<rect x="1180.0" y="182.5" width="1" height="21.2" fill="#ea4160"/>
<rect x="1178.6" y="183.2" width="3.8" height="18.0" fill="#ea4160"/>
<rect x="1185.2" y="199.5" width="1" height="14.2" fill="#ea4160"/>
<rect x="1183.8" y="200.5" width="3.8" height="8.8" fill="#ea4160"/>
<rect x="1190.5" y="198.0" width="1" height="12.0" fill="#2acb86"/>
<rect x="1189.1" y="198.8" width="3.8" height="9.2" fill="#2acb86"/>
<rect x="1195.7" y="182.5" width="1" height="13.0" fill="#2acb86"/>
<rect x="1194.3" y="188.2" width="3.8" height="6.2" fill="#2acb86"/>
<rect x="1201.0" y="186.2" width="1" height="5.8" fill="#ea4160"/>
<rect x="1199.6" y="188.8" width="3.8" height="1.8" fill="#ea4160"/>
<rect x="1206.2" y="193.2" width="1" height="9.2" fill="#ea4160"/>
<rect x="1204.8" y="193.8" width="3.8" height="3.8" fill="#ea4160"/>
<rect x="1211.5" y="195.0" width="1" height="12.0" fill="#ea4160"/>
<rect x="1210.1" y="198.0" width="3.8" height="7.8" fill="#ea4160"/>
<rect x="1216.7" y="198.8" width="1" height="21.2" fill="#ea4160"/>
<rect x="1215.3" y="204.2" width="3.8" height="2.5" fill="#ea4160"/>
<rect x="1222.0" y="207.0" width="1" height="6.8" fill="#ea4160"/>
<rect x="1220.6" y="208.8" width="3.8" height="1.2" fill="#ea4160"/>
<rect x="1227.2" y="211.2" width="1" height="8.2" fill="#ea4160"/>
<rect x="1225.8" y="212.5" width="3.8" height="2.5" fill="#ea4160"/>
<rect x="1232.5" y="198.8" width="1" height="8.8" fill="#2acb86"/>
<rect x="1231.1" y="201.8" width="3.8" height="4.5" fill="#2acb86"/>
<rect x="1237.7" y="200.0" width="1" height="7.0" fill="#ea4160"/>
<rect x="1236.3" y="204.5" width="3.8" height="1.8" fill="#ea4160"/>
<rect x="1243.0" y="196.8" width="1" height="10.2" fill="#2acb86"/>
<rect x="1241.6" y="202.0" width="3.8" height="2.5" fill="#2acb86"/>
<rect x="1248.3" y="198.8" width="1" height="7.5" fill="#ea4160"/>
<rect x="1246.9" y="200.0" width="3.8" height="5.0" fill="#ea4160"/>
<rect x="1253.5" y="207.2" width="1" height="11.8" fill="#ea4160"/>
<rect x="1252.1" y="207.2" width="3.8" height="9.1" fill="#ea4160"/>
<rect x="1258.8" y="205.9" width="1" height="14.4" fill="#ea4160"/>
<rect x="1257.4" y="211.5" width="3.8" height="8.1" fill="#ea4160"/>
<rect x="1264.0" y="210.4" width="1" height="8.1" fill="#2acb86"/>
<rect x="1262.6" y="212.0" width="3.8" height="5.0" fill="#2acb86"/>
<rect x="1269.3" y="209.4" width="1" height="7.8" fill="#ea4160"/>
<rect x="1267.9" y="211.8" width="3.8" height="5.0" fill="#ea4160"/>
<rect x="1274.5" y="211.8" width="1" height="11.5" fill="#ea4160"/>
<rect x="1273.1" y="212.4" width="3.8" height="7.8" fill="#ea4160"/>
<rect x="1279.8" y="211.8" width="1" height="11.1" fill="#2acb86"/>
<rect x="1278.4" y="213.1" width="3.8" height="6.3" fill="#2acb86"/>
<rect x="1285.0" y="215.9" width="1" height="16.1" fill="#ea4160"/>
<rect x="1283.6" y="215.9" width="3.8" height="14.8" fill="#ea4160"/>
<rect x="1290.3" y="228.5" width="1" height="10.3" fill="#ea4160"/>
<rect x="1288.9" y="231.1" width="3.8" height="7.1" fill="#ea4160"/>
<rect x="1295.5" y="231.3" width="1" height="7.4" fill="#2acb86"/>
<rect x="1294.1" y="232.4" width="3.8" height="5.2" fill="#2acb86"/>
<rect x="1300.8" y="239.2" width="1" height="7.6" fill="#ea4160"/>
<rect x="1299.4" y="239.6" width="3.8" height="6.1" fill="#ea4160"/>
<rect x="1306.0" y="247.3" width="1" height="12.1" fill="#ea4160"/>
<rect x="1304.6" y="247.7" width="3.8" height="8.2" fill="#ea4160"/>
<rect x="1311.3" y="251.6" width="1" height="6.5" fill="#ea4160"/>
<rect x="1309.9" y="252.0" width="3.8" height="5.9" fill="#ea4160"/>
<rect x="1316.5" y="251.6" width="1" height="9.1" fill="#2acb86"/>
<rect x="1315.1" y="255.1" width="3.8" height="2.1" fill="#2acb86"/>
<rect x="1321.8" y="249.9" width="1" height="11.5" fill="#2acb86"/>
<rect x="1320.4" y="251.2" width="3.8" height="8.2" fill="#2acb86"/>
<rect x="1327.0" y="253.8" width="1" height="4.6" fill="#ea4160"/>
<rect x="1325.6" y="254.2" width="3.8" height="3.7" fill="#ea4160"/>
<path d="M10.5 322.3 L14.3 320.0 L19.6 316.2 L24.8 317.5 L30.1 331.2 L35.3 338.8 L40.6 340.0 L45.8 336.8 L51.1 333.0 L56.3 333.8 L61.6 330.0 L66.8 324.2 L72.1 328.2 L77.3 328.2 L82.6 329.2 L87.8 325.5 L93.1 317.5 L98.3 322.5 L103.6 323.0 L108.9 318.0 L114.1 313.8 L119.4 313.2 L124.6 308.0 L129.9 309.5 L135.1 323.0 L140.4 319.2 L145.6 315.0 L150.9 313.0 L156.1 317.0 L161.4 312.5 L166.6 307.5 L171.9 315.5 L177.1 319.5 L182.4 323.8 L187.6 320.0 L192.9 315.8 L198.2 323.0 L203.4 331.8 L208.7 340.5 L213.9 338.2 L219.2 339.5 L224.4 343.0 L229.7 340.5 L234.9 341.8 L240.2 339.2 L245.4 342.5 L250.7 340.5 L255.9 345.0 L261.2 348.2 L266.4 352.0 L271.7 356.8 L276.9 354.5 L282.2 349.5 L287.5 346.2 L292.7 329.2 L298.0 327.0 L303.2 322.5 L308.5 325.0 L313.7 337.0 L319.0 331.2 L324.2 335.5 L329.5 335.0 L334.7 323.8 L340.0 321.2 L345.2 325.0 L350.5 322.0 L355.7 310.8 L361.0 309.2 L366.3 318.8 L371.5 316.2 L376.8 313.8 L382.0 312.0 L387.3 314.2 L392.5 311.2 L397.8 313.8 L403.0 311.8 L408.3 312.0 L413.5 303.0 L418.8 298.0 L424.0 301.2 L429.3 301.2 L434.5 305.8 L439.8 304.2 L445.0 301.8 L450.3 299.2 L455.6 301.2 L460.8 306.2 L466.1 307.0 L471.3 316.8 L476.6 314.2 L481.8 316.8 L487.1 318.0 L492.3 315.5 L497.6 320.8 L502.8 315.0 L508.1 321.2 L513.3 314.5 L518.6 308.2 L523.8 309.5 L529.1 306.2 L534.3 305.5 L539.6 305.0 L544.9 302.0 L550.1 307.0 L555.4 324.5 L560.6 319.2 L565.9 316.2 L571.1 327.0 L576.4 329.2 L581.6 333.0 L586.9 329.5 L592.1 332.0 L597.4 336.2 L602.6 343.0 L607.9 347.5 L613.1 346.2 L618.4 352.5 L623.6 341.2 L628.9 330.0 L634.2 335.0 L639.4 334.2 L644.7 333.8 L649.9 338.8 L655.2 333.8 L660.4 337.0 L665.7 338.0 L670.9 340.0 L676.2 340.8 L681.4 339.5 L686.7 335.0 L691.9 351.2 L697.2 353.0 L702.4 350.0 L707.7 347.5 L712.9 346.8 L718.2 348.0 L723.5 352.5 L728.7 343.8 L734.0 329.5 L739.2 324.5 L744.5 336.2 L749.7 341.2 L755.0 337.5 L760.2 332.0 L765.5 330.5 L770.7 319.2 L776.0 318.0 L781.2 320.0 L786.5 319.5 L791.7 314.5 L797.0 314.0 L802.2 319.2 L807.5 320.5 L812.8 321.2 L818.0 316.2 L823.3 319.2 L828.5 332.5 L833.8 328.8 L839.0 324.2 L844.3 332.0 L849.5 341.8 L854.8 340.8 L860.0 336.8 L865.3 340.0 L870.5 341.8 L875.8 335.5 L881.0 334.5 L886.3 325.8 L891.6 328.2 L896.8 339.2 L902.1 336.2 L907.3 342.0 L912.6 342.5 L917.8 339.2 L923.1 334.5 L928.3 327.0 L933.6 329.2 L938.8 332.5 L944.1 323.8 L949.3 318.0 L954.6 317.0 L959.8 318.0 L965.1 319.5 L970.3 327.0 L975.6 328.0 L980.9 330.0 L986.1 333.8 L991.4 326.8 L996.6 325.0 L1001.9 328.2 L1007.1 323.0 L1012.4 318.2 L1017.6 317.5 L1022.9 321.2 L1028.1 319.2 L1033.4 332.0 L1038.6 330.5 L1043.9 338.8 L1049.1 348.0 L1054.4 352.0 L1059.6 343.8 L1064.9 344.5 L1070.2 350.8 L1075.4 350.5 L1080.7 353.8 L1085.9 345.0 L1091.2 339.5 L1096.4 328.2 L1101.7 332.5 L1106.9 326.2 L1112.2 332.0 L1117.4 321.2 L1122.7 319.5 L1127.9 317.0 L1133.2 319.2 L1138.4 325.0 L1143.7 322.5 L1148.9 321.2 L1154.2 324.2 L1159.5 327.0 L1164.7 336.2 L1170.0 326.2 L1175.2 346.2 L1180.5 351.2 L1185.7 353.8 L1191.0 347.5 L1196.2 341.2 L1201.5 341.8 L1206.7 344.2 L1212.0 346.8 L1217.2 347.5 L1222.5 348.8 L1227.7 350.8 L1233.0 341.2 L1238.2 343.0 L1243.5 340.5 L1248.8 341.8 L1254.0 345.8 L1259.3 347.5 L1264.5 342.0 L1269.8 343.8 L1275.0 345.8 L1280.3 340.5 L1285.5 347.5 L1290.8 350.5 L1296.0 347.0 L1301.3 352.0 L1306.5 355.5 L1311.8 356.2 L1317.0 354.5 L1322.3 350.0 L1327.5 353.2" fill="none" stroke="#dc550f" stroke-width="2" stroke-linejoin="round"/>
<rect x="16.5" y="293.7" width="216.5" height="22.8" fill="#1a1a1a" fill-opacity="0.55"/>
<rect x="16.5" y="372.5" width="173" height="22.5" fill="#1a1a1a" fill-opacity="0.55"/>
<rect x="10" y="285.2" width="1438" height="1.9" fill="#c8c8c8"/>
<rect x="10" y="363.3" width="1438" height="1.5" fill="#c8c8c8"/>
<rect x="10" y="427.4" width="1438" height="1.2" fill="#8a8a8a"/>
<rect x="1371.8" y="10" width="1.3" height="447.5" fill="#b4b4b4"/>
</svg>
<div class="t lg" id="l1" style="left:22.1px;font-size:13.5px">FRANCO NEVD CORP</div>
<div class="t lg" id="l2" style="left:178px">O</div><div class="t lg red dg" id="l2d" style="left:191.4px">107.64</div>
<div class="t lg" id="l3" style="left:237.9px">H</div><div class="t lg red dg" id="l3d" style="left:249.6px">107.76</div>
<div class="t lg" id="l4" style="left:296.8px">L</div><div class="t lg red dg" id="l4d" style="left:306.8px">106.60</div>
<div class="t lg" id="l5" style="left:353.5px">C</div><div class="t lg red dg" id="l5d" style="left:365px">106.92</div>
<div class="t lg red" id="l6" style="left:413px;font-size:13.5px">−1.57 (−1.45%)</div>
<div style="position:absolute;left:518.3px;top:14.3px;width:31.7px;height:22.8px;box-sizing:border-box;border:1.3px solid #2d3039;border-radius:3.5px;"></div>
<div class="t lg" id="l7" style="left:555.3px">MA 21 close 0 SMA 9</div>
<div class="t lg" id="l8" style="left:701.8px;font-size:13.3px;color:#ffeb3b">114.88</div>
<div class="t lg" id="l9" style="left:752.9px">MA 50 close 0 SMA 9</div>
<div class="t lg" id="l10" style="left:899.3px;font-size:13.3px;color:#2962ff">124.59</div>
<div class="t lg" id="l11" style="left:22.3px;top:297.9px;font-size:13.5px">RSI 14 Wilder Simple 9</div>
<div class="t lg" id="l12" style="left:177.8px;top:297.9px;color:#ee6318">28.6848</div>
<div class="t lg" id="l13" style="left:22px;top:374.7px">Volume SMA 9</div>
<div class="t lg red" id="l14" style="left:126.8px;top:374.7px">264.564K</div>
<div class="t lg" id="usd" style="left:1383px;top:12.3px">USD</div>

<div class="t ax" style="top:45.5px">160.00</div>
<div class="t ax" style="top:84px">150.00</div>
<div class="t ax" style="top:123px">140.00</div>
<div class="t ax" style="top:162px">130.00</div>
<div class="t ax" style="top:200px">120.00</div>
<div class="t ax" style="top:239px">110.00</div>
<div class="t ax" style="top:332px">40.0000</div>
<div class="t ax" style="top:379px">2M</div>
<div class="tag" style="top:179px;width:59px;background:#2962ff">124.59</div>
<div class="tag" style="top:217px;width:59px;background:#ffeb3b;color:#1a1a1a">114.88</div>
<div class="tag" style="top:248px;width:59px;background:#e8415f">106.92</div>
<div class="tag" style="top:343.5px;width:67px;height:19.4px;background:#ff5a0a">28.6848</div>
<div class="tag" style="top:407.8px;width:74.2px;background:#e8415f">264.564K</div>

<div class="t mon" style="left:88px">2023</div>
<div class="t mon" style="left:192.5px">Feb</div>
<div class="t mon" style="left:292.5px">Mar</div>
<div class="t mon" style="left:413.5px">Apr</div>
<div class="t mon" style="left:513.5px">May</div>
<div class="t mon" style="left:629px">Jun</div>
<div class="t mon" style="left:739px">Jul</div>
<div class="t mon" style="left:844px">Aug</div>
<div class="t mon" style="left:965px">Sep</div>
<div class="t mon" style="left:1070px">Oct</div>
<div class="t mon" style="left:1186px">Nov</div>
<div class="t mon" style="left:1295.5px">Dec</div>

<div class="btn" style="left:12px;width:45px">1D</div>
<div class="btn" style="left:57px;width:44px">5D</div>
<div class="btn" style="left:101px;width:52px">10D</div>
<div class="btn" style="left:153px;width:45px">1M</div>
<div class="btn" style="left:198px;width:47px">3M</div>
<div class="btn" style="left:245px;width:45px">6M</div>
<div class="btn" style="left:290px;width:54px">YTD</div>
<div class="btn sel" style="left:344px;width:42px">1Y</div>
<div class="btn" style="left:386px;width:43px">2Y</div>
<div class="btn" style="left:429px;width:44px">3Y</div>
<div class="btn" style="left:473px;width:43px">5Y</div>
<div class="btn" style="left:516px;width:51px">10Y</div>
<div class="btn" style="left:567px;width:50px">20Y</div>
<div class="btn" style="left:617px;width:52px">Max</div>
<div class="btn" style="left:669px;width:27px"></div>
<div style="position:absolute;left:714px;top:458.6px;width:224.6px;height:25.6px;box-sizing:border-box;background:#0f0f0f;border:1px solid #2e2e2e;border-radius:2px;"></div>
<div class="t" id="d1" style="left:731px;top:465.5px;font-size:12.5px;letter-spacing:.3px;color:#d4d4d4">12-Dec-2022</div>
<div class="t" id="d2" style="left:814.5px;top:465.5px;font-size:12.5px;color:#d4d4d4">-</div>
<div class="t" id="d3" style="left:827.8px;top:465.5px;font-size:12.5px;letter-spacing:.3px;color:#d4d4d4">11-Dec-2023</div>
<svg width="1458" height="536" viewBox="0 0 1458 536" style="pointer-events:none">
<g transform="translate(1411,443)" stroke="#6c6f7a" fill="none" stroke-width="1.4"><circle r="5.1"/><line x1="0" y1="-5.8" x2="0" y2="-8.3" transform="rotate(0)"/><line x1="0" y1="-5.8" x2="0" y2="-8.3" transform="rotate(45)"/><line x1="0" y1="-5.8" x2="0" y2="-8.3" transform="rotate(90)"/><line x1="0" y1="-5.8" x2="0" y2="-8.3" transform="rotate(135)"/><line x1="0" y1="-5.8" x2="0" y2="-8.3" transform="rotate(180)"/><line x1="0" y1="-5.8" x2="0" y2="-8.3" transform="rotate(225)"/><line x1="0" y1="-5.8" x2="0" y2="-8.3" transform="rotate(270)"/><line x1="0" y1="-5.8" x2="0" y2="-8.3" transform="rotate(315)"/></g>
<polygon points="683.30,464.48 683.68,464.50 684.05,464.60 684.36,465.00 684.51,465.99 684.64,466.70 684.85,466.93 685.08,467.05 685.33,467.15 685.58,467.23 685.89,467.21 686.48,466.80 687.29,466.21 687.79,466.16 688.12,466.34 688.41,466.59 688.66,466.88 688.84,467.21 688.79,467.71 688.20,468.52 687.79,469.11 687.77,469.42 687.85,469.67 687.95,469.92 688.07,470.15 688.30,470.36 689.01,470.49 690.00,470.64 690.40,470.95 690.50,471.32 690.52,471.70 690.50,472.08 690.40,472.45 690.00,472.76 689.01,472.91 688.30,473.04 688.07,473.25 687.95,473.48 687.85,473.73 687.77,473.98 687.79,474.29 688.20,474.88 688.79,475.69 688.84,476.19 688.66,476.52 688.41,476.81 688.12,477.06 687.79,477.24 687.29,477.19 686.48,476.60 685.89,476.19 685.58,476.17 685.33,476.25 685.08,476.35 684.85,476.47 684.64,476.70 684.51,477.41 684.36,478.40 684.05,478.80 683.68,478.90 683.30,478.92 682.92,478.90 682.55,478.80 682.24,478.40 682.09,477.41 681.96,476.70 681.75,476.47 681.52,476.35 681.27,476.25 681.02,476.17 680.71,476.19 680.12,476.60 679.31,477.19 678.81,477.24 678.48,477.06 678.19,476.81 677.94,476.52 677.76,476.19 677.81,475.69 678.40,474.88 678.81,474.29 678.83,473.98 678.75,473.73 678.65,473.48 678.53,473.25 678.30,473.04 677.59,472.91 676.60,472.76 676.20,472.45 676.10,472.08 676.08,471.70 676.10,471.32 676.20,470.95 676.60,470.64 677.59,470.49 678.30,470.36 678.53,470.15 678.65,469.92 678.75,469.67 678.83,469.42 678.81,469.11 678.40,468.52 677.81,467.71 677.76,467.21 677.94,466.88 678.19,466.59 678.48,466.34 678.81,466.16 679.31,466.21 680.12,466.80 680.71,467.21 681.02,467.23 681.27,467.15 681.52,467.05 681.75,466.93 681.96,466.70 682.09,465.99 682.24,465.00 682.55,464.60 682.92,464.50" fill="none" stroke="#c9c9c9" stroke-width="1.2" stroke-linejoin="round"/>
<circle cx="683.3" cy="471.7" r="2.2" fill="none" stroke="#c9c9c9" stroke-width="1.2"/>
<g fill="none" stroke="#c4c4c4" stroke-width="1.3"><rect x="913.9" y="466.7" width="12.4" height="11.4" rx="1"/><line x1="913.9" y1="470" x2="926.3" y2="470"/><line x1="916.2" y1="464.8" x2="916.2" y2="467"/><line x1="924" y1="464.8" x2="924" y2="467"/></g>
<polyline points="536.8,21.4 531.6,25.8 536.8,30.2" fill="none" stroke="#e2e2e2" stroke-width="1.7" stroke-linecap="round" stroke-linejoin="round"/>
<polyline points="1415,17.2 1417.9,20 1420.8,17.2" fill="none" stroke="#dedede" stroke-width="1.4" stroke-linecap="round" stroke-linejoin="round"/>
</svg>
<div class="t cap" id="cap">FNV's Technical Chart, Source: REFINITIV; Analysis by Kalkine Group</div>
</body></html>
